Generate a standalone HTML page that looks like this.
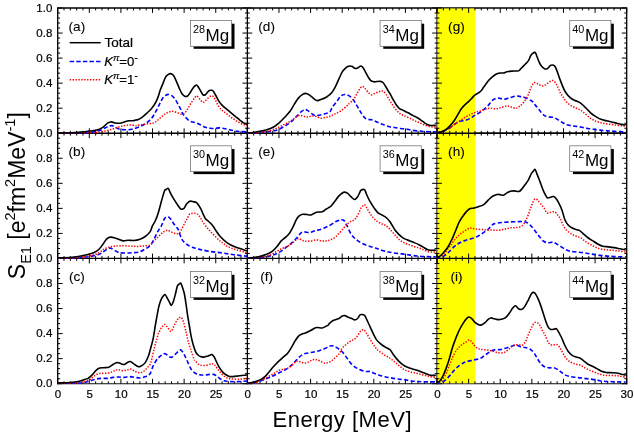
<!DOCTYPE html>
<html><head><meta charset="utf-8"><title>E1 strength in Mg isotopes</title>
<style>html,body{margin:0;padding:0;background:#fff}svg{display:block;will-change:transform;opacity:0.999}</style>
</head><body>
<svg width="634" height="433" viewBox="0 0 634 433">
<rect width="634" height="433" fill="#fff"/>
<path d="M57.05,383.7 H627.35" stroke="#111" stroke-width="1.05" fill="none"/>
<path d="M57.7,7.35 V384.35 M247.37,7.35 V384.35 M437.03,7.35 V384.35 M626.7,7.35 V384.35 M57.05,8 H627.35 M57.05,133.23 H627.35 M57.05,258.47 H627.35" stroke="#000" stroke-width="1.3" fill="none"/>
<rect x="437.45" y="8.5" width="37.75" height="374.7" fill="#ffff00"/>
<path d="M437.03,133.23 H626.7 M437.03,258.47 H626.7" stroke="#000" stroke-width="1.3" fill="none"/>
<path d="M57.7,133.23 H62.6 M57.7,128.22 H60.1 M57.7,123.21 H60.1 M57.7,118.21 H60.1 M57.7,113.2 H60.1 M57.7,108.19 H62.6 M57.7,103.18 H60.1 M57.7,98.17 H60.1 M57.7,93.16 H60.1 M57.7,88.15 H60.1 M57.7,83.14 H62.6 M57.7,78.13 H60.1 M57.7,73.12 H60.1 M57.7,68.11 H60.1 M57.7,63.1 H60.1 M57.7,58.09 H62.6 M57.7,53.08 H60.1 M57.7,48.07 H60.1 M57.7,43.07 H60.1 M57.7,38.06 H60.1 M57.7,33.05 H62.6 M57.7,28.04 H60.1 M57.7,23.03 H60.1 M57.7,18.02 H60.1 M57.7,13.01 H60.1 M57.7,8 H62.6 M57.7,258.47 H62.6 M57.7,253.46 H60.1 M57.7,248.45 H60.1 M57.7,243.44 H60.1 M57.7,238.43 H60.1 M57.7,233.42 H62.6 M57.7,228.41 H60.1 M57.7,223.4 H60.1 M57.7,218.39 H60.1 M57.7,213.38 H60.1 M57.7,208.37 H62.6 M57.7,203.36 H60.1 M57.7,198.35 H60.1 M57.7,193.35 H60.1 M57.7,188.34 H60.1 M57.7,183.33 H62.6 M57.7,178.32 H60.1 M57.7,173.31 H60.1 M57.7,168.3 H60.1 M57.7,163.29 H60.1 M57.7,158.28 H62.6 M57.7,153.27 H60.1 M57.7,148.26 H60.1 M57.7,143.25 H60.1 M57.7,138.24 H60.1 M57.7,133.23 H62.6 M57.7,383.7 H62.6 M57.7,378.69 H60.1 M57.7,373.68 H60.1 M57.7,368.67 H60.1 M57.7,363.66 H60.1 M57.7,358.65 H62.6 M57.7,353.64 H60.1 M57.7,348.63 H60.1 M57.7,343.63 H60.1 M57.7,338.62 H60.1 M57.7,333.61 H62.6 M57.7,328.6 H60.1 M57.7,323.59 H60.1 M57.7,318.58 H60.1 M57.7,313.57 H60.1 M57.7,308.56 H62.6 M57.7,303.55 H60.1 M57.7,298.54 H60.1 M57.7,293.53 H60.1 M57.7,288.52 H60.1 M57.7,283.51 H62.6 M57.7,278.5 H60.1 M57.7,273.49 H60.1 M57.7,268.49 H60.1 M57.7,263.48 H60.1 M57.7,258.47 H62.6 M242.47,133.23 H252.27 M244.97,128.22 H249.77 M244.97,123.21 H249.77 M244.97,118.21 H249.77 M244.97,113.2 H249.77 M242.47,108.19 H252.27 M244.97,103.18 H249.77 M244.97,98.17 H249.77 M244.97,93.16 H249.77 M244.97,88.15 H249.77 M242.47,83.14 H252.27 M244.97,78.13 H249.77 M244.97,73.12 H249.77 M244.97,68.11 H249.77 M244.97,63.1 H249.77 M242.47,58.09 H252.27 M244.97,53.08 H249.77 M244.97,48.07 H249.77 M244.97,43.07 H249.77 M244.97,38.06 H249.77 M242.47,33.05 H252.27 M244.97,28.04 H249.77 M244.97,23.03 H249.77 M244.97,18.02 H249.77 M244.97,13.01 H249.77 M242.47,8 H252.27 M242.47,258.47 H252.27 M244.97,253.46 H249.77 M244.97,248.45 H249.77 M244.97,243.44 H249.77 M244.97,238.43 H249.77 M242.47,233.42 H252.27 M244.97,228.41 H249.77 M244.97,223.4 H249.77 M244.97,218.39 H249.77 M244.97,213.38 H249.77 M242.47,208.37 H252.27 M244.97,203.36 H249.77 M244.97,198.35 H249.77 M244.97,193.35 H249.77 M244.97,188.34 H249.77 M242.47,183.33 H252.27 M244.97,178.32 H249.77 M244.97,173.31 H249.77 M244.97,168.3 H249.77 M244.97,163.29 H249.77 M242.47,158.28 H252.27 M244.97,153.27 H249.77 M244.97,148.26 H249.77 M244.97,143.25 H249.77 M244.97,138.24 H249.77 M242.47,133.23 H252.27 M242.47,383.7 H252.27 M244.97,378.69 H249.77 M244.97,373.68 H249.77 M244.97,368.67 H249.77 M244.97,363.66 H249.77 M242.47,358.65 H252.27 M244.97,353.64 H249.77 M244.97,348.63 H249.77 M244.97,343.63 H249.77 M244.97,338.62 H249.77 M242.47,333.61 H252.27 M244.97,328.6 H249.77 M244.97,323.59 H249.77 M244.97,318.58 H249.77 M244.97,313.57 H249.77 M242.47,308.56 H252.27 M244.97,303.55 H249.77 M244.97,298.54 H249.77 M244.97,293.53 H249.77 M244.97,288.52 H249.77 M242.47,283.51 H252.27 M244.97,278.5 H249.77 M244.97,273.49 H249.77 M244.97,268.49 H249.77 M244.97,263.48 H249.77 M242.47,258.47 H252.27 M432.13,133.23 H441.93 M434.63,128.22 H439.43 M434.63,123.21 H439.43 M434.63,118.21 H439.43 M434.63,113.2 H439.43 M432.13,108.19 H441.93 M434.63,103.18 H439.43 M434.63,98.17 H439.43 M434.63,93.16 H439.43 M434.63,88.15 H439.43 M432.13,83.14 H441.93 M434.63,78.13 H439.43 M434.63,73.12 H439.43 M434.63,68.11 H439.43 M434.63,63.1 H439.43 M432.13,58.09 H441.93 M434.63,53.08 H439.43 M434.63,48.07 H439.43 M434.63,43.07 H439.43 M434.63,38.06 H439.43 M432.13,33.05 H441.93 M434.63,28.04 H439.43 M434.63,23.03 H439.43 M434.63,18.02 H439.43 M434.63,13.01 H439.43 M432.13,8 H441.93 M432.13,258.47 H441.93 M434.63,253.46 H439.43 M434.63,248.45 H439.43 M434.63,243.44 H439.43 M434.63,238.43 H439.43 M432.13,233.42 H441.93 M434.63,228.41 H439.43 M434.63,223.4 H439.43 M434.63,218.39 H439.43 M434.63,213.38 H439.43 M432.13,208.37 H441.93 M434.63,203.36 H439.43 M434.63,198.35 H439.43 M434.63,193.35 H439.43 M434.63,188.34 H439.43 M432.13,183.33 H441.93 M434.63,178.32 H439.43 M434.63,173.31 H439.43 M434.63,168.3 H439.43 M434.63,163.29 H439.43 M432.13,158.28 H441.93 M434.63,153.27 H439.43 M434.63,148.26 H439.43 M434.63,143.25 H439.43 M434.63,138.24 H439.43 M432.13,133.23 H441.93 M432.13,383.7 H441.93 M434.63,378.69 H439.43 M434.63,373.68 H439.43 M434.63,368.67 H439.43 M434.63,363.66 H439.43 M432.13,358.65 H441.93 M434.63,353.64 H439.43 M434.63,348.63 H439.43 M434.63,343.63 H439.43 M434.63,338.62 H439.43 M432.13,333.61 H441.93 M434.63,328.6 H439.43 M434.63,323.59 H439.43 M434.63,318.58 H439.43 M434.63,313.57 H439.43 M432.13,308.56 H441.93 M434.63,303.55 H439.43 M434.63,298.54 H439.43 M434.63,293.53 H439.43 M434.63,288.52 H439.43 M432.13,283.51 H441.93 M434.63,278.5 H439.43 M434.63,273.49 H439.43 M434.63,268.49 H439.43 M434.63,263.48 H439.43 M432.13,258.47 H441.93 M621.8,133.23 H626.7 M624.3,128.22 H626.7 M624.3,123.21 H626.7 M624.3,118.21 H626.7 M624.3,113.2 H626.7 M621.8,108.19 H626.7 M624.3,103.18 H626.7 M624.3,98.17 H626.7 M624.3,93.16 H626.7 M624.3,88.15 H626.7 M621.8,83.14 H626.7 M624.3,78.13 H626.7 M624.3,73.12 H626.7 M624.3,68.11 H626.7 M624.3,63.1 H626.7 M621.8,58.09 H626.7 M624.3,53.08 H626.7 M624.3,48.07 H626.7 M624.3,43.07 H626.7 M624.3,38.06 H626.7 M621.8,33.05 H626.7 M624.3,28.04 H626.7 M624.3,23.03 H626.7 M624.3,18.02 H626.7 M624.3,13.01 H626.7 M621.8,8 H626.7 M621.8,258.47 H626.7 M624.3,253.46 H626.7 M624.3,248.45 H626.7 M624.3,243.44 H626.7 M624.3,238.43 H626.7 M621.8,233.42 H626.7 M624.3,228.41 H626.7 M624.3,223.4 H626.7 M624.3,218.39 H626.7 M624.3,213.38 H626.7 M621.8,208.37 H626.7 M624.3,203.36 H626.7 M624.3,198.35 H626.7 M624.3,193.35 H626.7 M624.3,188.34 H626.7 M621.8,183.33 H626.7 M624.3,178.32 H626.7 M624.3,173.31 H626.7 M624.3,168.3 H626.7 M624.3,163.29 H626.7 M621.8,158.28 H626.7 M624.3,153.27 H626.7 M624.3,148.26 H626.7 M624.3,143.25 H626.7 M624.3,138.24 H626.7 M621.8,133.23 H626.7 M621.8,383.7 H626.7 M624.3,378.69 H626.7 M624.3,373.68 H626.7 M624.3,368.67 H626.7 M624.3,363.66 H626.7 M621.8,358.65 H626.7 M624.3,353.64 H626.7 M624.3,348.63 H626.7 M624.3,343.63 H626.7 M624.3,338.62 H626.7 M621.8,333.61 H626.7 M624.3,328.6 H626.7 M624.3,323.59 H626.7 M624.3,318.58 H626.7 M624.3,313.57 H626.7 M621.8,308.56 H626.7 M624.3,303.55 H626.7 M624.3,298.54 H626.7 M624.3,293.53 H626.7 M624.3,288.52 H626.7 M621.8,283.51 H626.7 M624.3,278.5 H626.7 M624.3,273.49 H626.7 M624.3,268.49 H626.7 M624.3,263.48 H626.7 M621.8,258.47 H626.7 M57.7,8 V12.9 M64.02,8 V10.4 M70.34,8 V10.4 M76.67,8 V10.4 M82.99,8 V10.4 M89.31,8 V12.9 M95.63,8 V10.4 M101.96,8 V10.4 M108.28,8 V10.4 M114.6,8 V10.4 M120.92,8 V12.9 M127.24,8 V10.4 M133.57,8 V10.4 M139.89,8 V10.4 M146.21,8 V10.4 M152.53,8 V12.9 M158.86,8 V10.4 M165.18,8 V10.4 M171.5,8 V10.4 M177.82,8 V10.4 M184.14,8 V12.9 M190.47,8 V10.4 M196.79,8 V10.4 M203.11,8 V10.4 M209.43,8 V10.4 M215.76,8 V12.9 M222.08,8 V10.4 M228.4,8 V10.4 M234.72,8 V10.4 M241.04,8 V10.4 M247.37,8 V12.9 M247.37,8 V12.9 M253.69,8 V10.4 M260.01,8 V10.4 M266.33,8 V10.4 M272.66,8 V10.4 M278.98,8 V12.9 M285.3,8 V10.4 M291.62,8 V10.4 M297.94,8 V10.4 M304.27,8 V10.4 M310.59,8 V12.9 M316.91,8 V10.4 M323.23,8 V10.4 M329.56,8 V10.4 M335.88,8 V10.4 M342.2,8 V12.9 M348.52,8 V10.4 M354.84,8 V10.4 M361.17,8 V10.4 M367.49,8 V10.4 M373.81,8 V12.9 M380.13,8 V10.4 M386.46,8 V10.4 M392.78,8 V10.4 M399.1,8 V10.4 M405.42,8 V12.9 M411.74,8 V10.4 M418.07,8 V10.4 M424.39,8 V10.4 M430.71,8 V10.4 M437.03,8 V12.9 M437.03,8 V12.9 M443.36,8 V10.4 M449.68,8 V10.4 M456,8 V10.4 M462.32,8 V10.4 M468.64,8 V12.9 M474.97,8 V10.4 M481.29,8 V10.4 M487.61,8 V10.4 M493.93,8 V10.4 M500.26,8 V12.9 M506.58,8 V10.4 M512.9,8 V10.4 M519.22,8 V10.4 M525.54,8 V10.4 M531.87,8 V12.9 M538.19,8 V10.4 M544.51,8 V10.4 M550.83,8 V10.4 M557.16,8 V10.4 M563.48,8 V12.9 M569.8,8 V10.4 M576.12,8 V10.4 M582.44,8 V10.4 M588.77,8 V10.4 M595.09,8 V12.9 M601.41,8 V10.4 M607.73,8 V10.4 M614.06,8 V10.4 M620.38,8 V10.4 M626.7,8 V12.9 M57.7,128.33 V138.13 M64.02,130.83 V135.63 M70.34,130.83 V135.63 M76.67,130.83 V135.63 M82.99,130.83 V135.63 M89.31,128.33 V138.13 M95.63,130.83 V135.63 M101.96,130.83 V135.63 M108.28,130.83 V135.63 M114.6,130.83 V135.63 M120.92,128.33 V138.13 M127.24,130.83 V135.63 M133.57,130.83 V135.63 M139.89,130.83 V135.63 M146.21,130.83 V135.63 M152.53,128.33 V138.13 M158.86,130.83 V135.63 M165.18,130.83 V135.63 M171.5,130.83 V135.63 M177.82,130.83 V135.63 M184.14,128.33 V138.13 M190.47,130.83 V135.63 M196.79,130.83 V135.63 M203.11,130.83 V135.63 M209.43,130.83 V135.63 M215.76,128.33 V138.13 M222.08,130.83 V135.63 M228.4,130.83 V135.63 M234.72,130.83 V135.63 M241.04,130.83 V135.63 M247.37,128.33 V138.13 M247.37,128.33 V138.13 M253.69,130.83 V135.63 M260.01,130.83 V135.63 M266.33,130.83 V135.63 M272.66,130.83 V135.63 M278.98,128.33 V138.13 M285.3,130.83 V135.63 M291.62,130.83 V135.63 M297.94,130.83 V135.63 M304.27,130.83 V135.63 M310.59,128.33 V138.13 M316.91,130.83 V135.63 M323.23,130.83 V135.63 M329.56,130.83 V135.63 M335.88,130.83 V135.63 M342.2,128.33 V138.13 M348.52,130.83 V135.63 M354.84,130.83 V135.63 M361.17,130.83 V135.63 M367.49,130.83 V135.63 M373.81,128.33 V138.13 M380.13,130.83 V135.63 M386.46,130.83 V135.63 M392.78,130.83 V135.63 M399.1,130.83 V135.63 M405.42,128.33 V138.13 M411.74,130.83 V135.63 M418.07,130.83 V135.63 M424.39,130.83 V135.63 M430.71,130.83 V135.63 M437.03,128.33 V138.13 M437.03,128.33 V138.13 M443.36,130.83 V135.63 M449.68,130.83 V135.63 M456,130.83 V135.63 M462.32,130.83 V135.63 M468.64,128.33 V138.13 M474.97,130.83 V135.63 M481.29,130.83 V135.63 M487.61,130.83 V135.63 M493.93,130.83 V135.63 M500.26,128.33 V138.13 M506.58,130.83 V135.63 M512.9,130.83 V135.63 M519.22,130.83 V135.63 M525.54,130.83 V135.63 M531.87,128.33 V138.13 M538.19,130.83 V135.63 M544.51,130.83 V135.63 M550.83,130.83 V135.63 M557.16,130.83 V135.63 M563.48,128.33 V138.13 M569.8,130.83 V135.63 M576.12,130.83 V135.63 M582.44,130.83 V135.63 M588.77,130.83 V135.63 M595.09,128.33 V138.13 M601.41,130.83 V135.63 M607.73,130.83 V135.63 M614.06,130.83 V135.63 M620.38,130.83 V135.63 M626.7,128.33 V138.13 M57.7,253.57 V263.37 M64.02,256.07 V260.87 M70.34,256.07 V260.87 M76.67,256.07 V260.87 M82.99,256.07 V260.87 M89.31,253.57 V263.37 M95.63,256.07 V260.87 M101.96,256.07 V260.87 M108.28,256.07 V260.87 M114.6,256.07 V260.87 M120.92,253.57 V263.37 M127.24,256.07 V260.87 M133.57,256.07 V260.87 M139.89,256.07 V260.87 M146.21,256.07 V260.87 M152.53,253.57 V263.37 M158.86,256.07 V260.87 M165.18,256.07 V260.87 M171.5,256.07 V260.87 M177.82,256.07 V260.87 M184.14,253.57 V263.37 M190.47,256.07 V260.87 M196.79,256.07 V260.87 M203.11,256.07 V260.87 M209.43,256.07 V260.87 M215.76,253.57 V263.37 M222.08,256.07 V260.87 M228.4,256.07 V260.87 M234.72,256.07 V260.87 M241.04,256.07 V260.87 M247.37,253.57 V263.37 M247.37,253.57 V263.37 M253.69,256.07 V260.87 M260.01,256.07 V260.87 M266.33,256.07 V260.87 M272.66,256.07 V260.87 M278.98,253.57 V263.37 M285.3,256.07 V260.87 M291.62,256.07 V260.87 M297.94,256.07 V260.87 M304.27,256.07 V260.87 M310.59,253.57 V263.37 M316.91,256.07 V260.87 M323.23,256.07 V260.87 M329.56,256.07 V260.87 M335.88,256.07 V260.87 M342.2,253.57 V263.37 M348.52,256.07 V260.87 M354.84,256.07 V260.87 M361.17,256.07 V260.87 M367.49,256.07 V260.87 M373.81,253.57 V263.37 M380.13,256.07 V260.87 M386.46,256.07 V260.87 M392.78,256.07 V260.87 M399.1,256.07 V260.87 M405.42,253.57 V263.37 M411.74,256.07 V260.87 M418.07,256.07 V260.87 M424.39,256.07 V260.87 M430.71,256.07 V260.87 M437.03,253.57 V263.37 M437.03,253.57 V263.37 M443.36,256.07 V260.87 M449.68,256.07 V260.87 M456,256.07 V260.87 M462.32,256.07 V260.87 M468.64,253.57 V263.37 M474.97,256.07 V260.87 M481.29,256.07 V260.87 M487.61,256.07 V260.87 M493.93,256.07 V260.87 M500.26,253.57 V263.37 M506.58,256.07 V260.87 M512.9,256.07 V260.87 M519.22,256.07 V260.87 M525.54,256.07 V260.87 M531.87,253.57 V263.37 M538.19,256.07 V260.87 M544.51,256.07 V260.87 M550.83,256.07 V260.87 M557.16,256.07 V260.87 M563.48,253.57 V263.37 M569.8,256.07 V260.87 M576.12,256.07 V260.87 M582.44,256.07 V260.87 M588.77,256.07 V260.87 M595.09,253.57 V263.37 M601.41,256.07 V260.87 M607.73,256.07 V260.87 M614.06,256.07 V260.87 M620.38,256.07 V260.87 M626.7,253.57 V263.37 M57.7,378.8 V383.7 M64.02,381.3 V383.7 M70.34,381.3 V383.7 M76.67,381.3 V383.7 M82.99,381.3 V383.7 M89.31,378.8 V383.7 M95.63,381.3 V383.7 M101.96,381.3 V383.7 M108.28,381.3 V383.7 M114.6,381.3 V383.7 M120.92,378.8 V383.7 M127.24,381.3 V383.7 M133.57,381.3 V383.7 M139.89,381.3 V383.7 M146.21,381.3 V383.7 M152.53,378.8 V383.7 M158.86,381.3 V383.7 M165.18,381.3 V383.7 M171.5,381.3 V383.7 M177.82,381.3 V383.7 M184.14,378.8 V383.7 M190.47,381.3 V383.7 M196.79,381.3 V383.7 M203.11,381.3 V383.7 M209.43,381.3 V383.7 M215.76,378.8 V383.7 M222.08,381.3 V383.7 M228.4,381.3 V383.7 M234.72,381.3 V383.7 M241.04,381.3 V383.7 M247.37,378.8 V383.7 M247.37,378.8 V383.7 M253.69,381.3 V383.7 M260.01,381.3 V383.7 M266.33,381.3 V383.7 M272.66,381.3 V383.7 M278.98,378.8 V383.7 M285.3,381.3 V383.7 M291.62,381.3 V383.7 M297.94,381.3 V383.7 M304.27,381.3 V383.7 M310.59,378.8 V383.7 M316.91,381.3 V383.7 M323.23,381.3 V383.7 M329.56,381.3 V383.7 M335.88,381.3 V383.7 M342.2,378.8 V383.7 M348.52,381.3 V383.7 M354.84,381.3 V383.7 M361.17,381.3 V383.7 M367.49,381.3 V383.7 M373.81,378.8 V383.7 M380.13,381.3 V383.7 M386.46,381.3 V383.7 M392.78,381.3 V383.7 M399.1,381.3 V383.7 M405.42,378.8 V383.7 M411.74,381.3 V383.7 M418.07,381.3 V383.7 M424.39,381.3 V383.7 M430.71,381.3 V383.7 M437.03,378.8 V383.7 M437.03,378.8 V383.7 M443.36,381.3 V383.7 M449.68,381.3 V383.7 M456,381.3 V383.7 M462.32,381.3 V383.7 M468.64,378.8 V383.7 M474.97,381.3 V383.7 M481.29,381.3 V383.7 M487.61,381.3 V383.7 M493.93,381.3 V383.7 M500.26,378.8 V383.7 M506.58,381.3 V383.7 M512.9,381.3 V383.7 M519.22,381.3 V383.7 M525.54,381.3 V383.7 M531.87,378.8 V383.7 M538.19,381.3 V383.7 M544.51,381.3 V383.7 M550.83,381.3 V383.7 M557.16,381.3 V383.7 M563.48,378.8 V383.7 M569.8,381.3 V383.7 M576.12,381.3 V383.7 M582.44,381.3 V383.7 M588.77,381.3 V383.7 M595.09,378.8 V383.7 M601.41,381.3 V383.7 M607.73,381.3 V383.7 M614.06,381.3 V383.7 M620.38,381.3 V383.7 M626.7,378.8 V383.7" stroke="#000" stroke-width="1" fill="none"/>
<clipPath id="cpa"><rect x="57.7" y="8" width="189.67" height="126.03"/></clipPath>
<g clip-path="url(#cpa)" fill="none" stroke-linejoin="round">
<path d="M58,133C60,133 66.16,133.05 70,133.01C73.84,132.98 77.36,132.94 81.04,132.79C84.72,132.64 88.95,132.53 92.08,132.13C95.21,131.72 97.6,131.08 99.81,130.36C102.02,129.65 103.86,128.5 105.33,127.82C106.8,127.14 107.54,126.65 108.64,126.28C109.75,125.91 110.85,125.49 111.96,125.62C113.06,125.74 113.98,126.44 115.27,127.05C116.56,127.66 118.03,128.8 119.68,129.26C121.34,129.72 123.18,129.81 125.21,129.81C127.23,129.81 129.55,129.73 131.83,129.26C134.11,128.78 136.53,127.92 138.86,126.96C141.19,126 143.67,124.94 145.79,123.5C147.91,122.05 149.93,120.23 151.57,118.3C153.2,116.38 154.26,114.35 155.61,111.95C156.96,109.54 158.4,106.27 159.65,103.86C160.9,101.45 162.06,98.95 163.12,97.51C164.18,96.06 165.14,95.71 166.01,95.2C166.87,94.68 167.26,94.28 168.32,94.42C169.38,94.56 171.11,95.04 172.36,96.04C173.61,97.04 174.77,98.83 175.83,100.43C176.88,102.03 177.85,104.09 178.71,105.63C179.58,107.17 180.42,108.47 181.02,109.67C181.62,110.87 181.71,111.73 182.31,112.83C182.91,113.94 183.66,115.15 184.62,116.3C185.58,117.46 186.93,118.86 188.09,119.77C189.24,120.67 190.2,121.21 191.55,121.73C192.9,122.25 194.63,122.35 196.17,122.88C197.71,123.42 199.25,124.23 200.79,124.96C202.33,125.7 203.87,126.73 205.41,127.27C206.95,127.81 208.49,128.01 210.03,128.2C211.57,128.39 213.11,128.49 214.65,128.43C216.19,128.37 217.73,127.85 219.27,127.85C220.81,127.85 222.35,128.18 223.89,128.43C225.43,128.68 226.97,129.01 228.51,129.35C230.06,129.7 231.6,130.18 233.14,130.51C234.68,130.84 236.22,131.12 237.76,131.32C239.3,131.51 240.84,131.57 242.38,131.66C243.92,131.76 246.23,131.86 247,131.89" stroke="#0000ff" stroke-width="1.6" stroke-dasharray="4.2,2.4"/>
<path d="M58,133C60,133 66.16,133.05 70,133.01C73.84,132.98 77.36,132.87 81.04,132.79C84.72,132.72 89.14,132.66 92.08,132.57C95.03,132.48 96.5,132.52 98.71,132.24C100.91,131.96 103.12,131.41 105.33,130.91C107.54,130.42 109.75,129.9 111.96,129.26C114.16,128.61 116.56,127.66 118.58,127.05C120.6,126.44 122.26,125.98 124.1,125.62C125.94,125.25 127.78,124.84 129.62,124.84C131.46,124.84 133.99,125.49 135.14,125.62C136.3,125.74 135.35,125.74 136.55,125.58C137.75,125.42 140.4,124.96 142.33,124.65C144.25,124.35 146.18,124.02 148.1,123.73C150.03,123.44 152.15,123.63 153.88,122.92C155.61,122.21 156.96,120.71 158.5,119.46C160.04,118.2 161.58,116.57 163.12,115.41C164.66,114.26 166.2,113.2 167.74,112.52C169.28,111.85 170.82,111.37 172.36,111.37C173.9,111.37 175.44,112.04 176.98,112.52C178.52,113.01 180.25,114.26 181.6,114.26C182.95,114.26 183.91,113.68 185.07,112.52C186.22,111.37 187.38,109.16 188.53,107.33C189.69,105.5 190.92,103.19 192,101.55C193.07,99.91 194.29,98.43 195,97.51C195.71,96.59 195.78,96.11 196.28,96.03C196.77,95.94 197.3,96.34 197.98,96.97C198.66,97.6 199.49,98.9 200.35,99.81C201.2,100.72 202.16,102.39 203.1,102.44C204.04,102.49 205.03,101 205.99,100.13C206.95,99.26 208.01,97.95 208.88,97.24C209.74,96.53 210.42,95.95 211.19,95.85C211.96,95.76 212.73,95.85 213.5,96.66C214.27,97.47 215.04,99.26 215.81,100.71C216.58,102.15 217.25,103.88 218.12,105.33C218.99,106.77 220.04,108.31 221.01,109.37C221.97,110.43 222.84,110.85 223.89,111.68C224.95,112.51 226.2,113.43 227.36,114.34C228.51,115.24 229.67,116.26 230.83,117.11C231.98,117.96 233.14,118.65 234.29,119.42C235.45,120.19 236.6,121.04 237.76,121.73C238.91,122.42 240.07,123.04 241.22,123.58C242.38,124.12 243.72,124.6 244.69,124.96C245.65,125.33 246.61,125.64 247,125.77" stroke="#ff0000" stroke-width="1.5" stroke-dasharray="1.4,1.5"/>
<path d="M58,133C60,132.97 66.16,132.94 70,132.79C73.84,132.65 77.73,132.42 81.04,132.13C84.35,131.83 87.11,131.41 89.87,131.03C92.63,130.64 95.39,130.47 97.6,129.81C99.81,129.15 101.47,128.15 103.12,127.05C104.78,125.95 106.16,124.05 107.54,123.19C108.92,122.32 110.12,121.9 111.4,121.86C112.69,121.82 113.89,122.74 115.27,122.97C116.65,123.19 118.21,123.33 119.68,123.19C121.16,123.04 122.63,122.49 124.1,122.08C125.57,121.68 127.05,120.98 128.52,120.76C129.99,120.54 131.65,120.9 132.93,120.76C134.22,120.61 135.45,120.03 136.25,119.87C137.04,119.71 136.69,120.26 137.71,119.8C138.72,119.35 140.79,118.26 142.33,117.15C143.87,116.03 145.41,114.55 146.95,113.1C148.49,111.66 150.12,110.21 151.57,108.48C153.01,106.75 154.46,104.82 155.61,102.71C156.77,100.59 157.73,97.89 158.5,95.78C159.27,93.66 159.46,92.11 160.23,90C161,87.89 162.25,85.21 163.12,83.1C163.99,80.99 164.56,78.77 165.43,77.33C166.3,75.88 167.45,75.06 168.32,74.44C169.18,73.82 169.76,73.44 170.63,73.63C171.49,73.82 172.55,74.3 173.51,75.59C174.48,76.88 175.44,79.25 176.4,81.37C177.37,83.49 178.33,86.18 179.29,88.3C180.25,90.42 181.22,92.73 182.18,94.08C183.14,95.42 184.17,96.06 185.07,96.39C185.96,96.71 186.84,96.48 187.57,96.03C188.3,95.57 188.75,94.68 189.46,93.66C190.17,92.63 191.04,91.06 191.83,89.87C192.62,88.69 193.56,87.3 194.2,86.56C194.83,85.82 195.17,85.66 195.62,85.43C196.06,85.19 196.45,84.95 196.85,85.14C197.24,85.33 197.4,85.69 197.98,86.56C198.56,87.43 199.49,88.95 200.35,90.35C201.2,91.74 202.26,94.21 203.1,94.93C203.95,95.66 204.64,95.18 205.41,94.7C206.18,94.22 207.05,92.74 207.72,92.04C208.4,91.35 208.78,90.83 209.46,90.54C210.13,90.25 211.09,90.16 211.77,90.31C212.44,90.46 212.82,90.6 213.5,91.47C214.17,92.33 214.85,93.78 215.81,95.51C216.77,97.24 218.12,100.13 219.27,101.86C220.43,103.59 221.58,104.75 222.74,105.9C223.89,107.06 225.05,107.83 226.2,108.79C227.36,109.75 228.51,110.72 229.67,111.68C230.83,112.64 231.98,113.61 233.14,114.57C234.29,115.53 235.45,116.49 236.6,117.46C237.76,118.42 238.91,119.44 240.07,120.34C241.22,121.25 242.38,122.21 243.53,122.88C244.69,123.56 246.42,124.14 247,124.39" stroke="#000" stroke-width="1.6"/>
</g>
<clipPath id="cpb"><rect x="57.7" y="133.23" width="189.67" height="126.03"/></clipPath>
<g clip-path="url(#cpb)" fill="none" stroke-linejoin="round">
<path d="M58,258C60,258.04 65.69,258.38 70,258.23C74.31,258.09 80.17,257.47 83.86,257.12C87.56,256.78 89.64,256.61 92.18,256.15C94.73,255.69 97.15,255.16 99.12,254.35C101.08,253.54 102.47,252.27 103.97,251.3C105.47,250.33 106.97,249.04 108.13,248.53C109.28,248.02 109.86,247.97 110.9,248.25C111.94,248.53 113.1,249.5 114.37,250.19C115.64,250.88 116.68,251.95 118.53,252.41C120.38,252.87 123.15,252.92 125.46,252.96C127.77,253.01 130.08,252.85 132.39,252.69C134.7,252.52 137.24,252.57 139.32,251.99C141.4,251.42 143.09,250.26 144.87,249.22C146.65,248.18 148.58,247.22 150,245.75C151.42,244.28 152.08,242.78 153.39,240.4C154.71,238.01 156.6,233.72 157.87,231.45C159.13,229.18 160.17,228.23 160.97,226.78C161.78,225.33 162.13,224.09 162.71,222.74C163.28,221.39 163.86,219.62 164.44,218.7C165.02,217.77 165.5,217.48 166.17,217.19C166.85,216.91 167.71,216.62 168.48,216.96C169.25,217.31 170.02,218.31 170.79,219.27C171.56,220.24 172.24,221.49 173.1,222.74C173.97,223.99 175.12,225.63 175.99,226.78C176.86,227.94 177.35,227.65 178.3,229.67C179.25,231.69 180.4,236.52 181.71,238.91C183.03,241.29 184.45,242.59 186.19,243.98C187.92,245.37 189.91,246.37 192.15,247.26C194.38,248.16 196.62,248.65 199.6,249.35C202.58,250.04 206.31,250.84 210.03,251.44C213.76,252.03 217.98,252.38 221.96,252.93C225.93,253.48 229.71,254.17 233.88,254.72C238.06,255.27 244.81,255.96 247,256.21" stroke="#0000ff" stroke-width="1.6" stroke-dasharray="4.2,2.4"/>
<path d="M58,258C60,258.04 65.69,258.42 70,258.23C74.31,258.04 80.17,257.35 83.86,256.85C87.56,256.34 89.64,255.88 92.18,255.18C94.73,254.49 97.15,253.68 99.12,252.69C101.08,251.69 102.35,250.14 103.97,249.22C105.59,248.3 107.09,247.65 108.82,247.14C110.55,246.63 112.29,246.4 114.37,246.17C116.45,245.94 118.76,245.78 121.3,245.75C123.84,245.73 127.08,245.92 129.62,246.03C132.16,246.15 134.24,246.45 136.55,246.45C138.86,246.45 141.24,246.26 143.48,246.03C145.73,245.8 148.33,245.8 150,245.06C151.67,244.32 152.35,242.76 153.5,241.6C154.65,240.44 155.75,239.27 156.9,238.1C158.05,236.93 159.23,235.67 160.4,234.6C161.57,233.53 162.75,232.43 163.9,231.7C165.05,230.97 166.15,230.2 167.3,230.2C168.45,230.2 169.63,231.18 170.8,231.7C171.97,232.22 173.25,232.97 174.3,233.3C175.35,233.63 176.23,233.77 177.1,233.7C177.97,233.63 178.72,233.7 179.5,232.9C180.28,232.1 180.93,230.53 181.8,228.9C182.67,227.27 183.83,224.75 184.7,223.1C185.57,221.45 186.23,220.45 187,219C187.77,217.55 188.53,215.32 189.3,214.4C190.07,213.48 190.83,213.68 191.6,213.5C192.37,213.32 193.03,213.27 193.9,213.3C194.77,213.33 195.93,213.28 196.8,213.7C197.67,214.12 198.33,214.85 199.1,215.8C199.87,216.75 200.73,218.28 201.4,219.4C202.07,220.52 202.23,221.22 203.1,222.5C203.97,223.78 205.43,225.65 206.6,227.1C207.77,228.55 208.75,229.75 210.1,231.2C211.45,232.65 213.05,234.17 214.7,235.8C216.35,237.43 218.54,239.74 220,241C221.46,242.26 222.13,242.44 223.45,243.38C224.77,244.33 225.69,245.57 227.92,246.66C230.16,247.76 233.68,248.95 236.86,249.95C240.04,250.94 245.31,252.18 247,252.63" stroke="#ff0000" stroke-width="1.5" stroke-dasharray="1.4,1.5"/>
<path d="M58,257.7C60,257.67 66.61,257.73 70,257.54C73.39,257.35 75.55,257.03 78.32,256.57C81.09,256.11 84.1,255.41 86.64,254.77C89.18,254.12 91.49,253.61 93.57,252.69C95.65,251.76 97.5,250.72 99.12,249.22C100.73,247.72 102,245.41 103.28,243.67C104.55,241.94 105.59,239.91 106.74,238.82C107.9,237.74 108.94,237.34 110.21,237.16C111.48,236.97 112.87,237.32 114.37,237.71C115.87,238.11 117.72,238.98 119.22,239.51C120.72,240.05 121.88,240.79 123.38,240.9C124.88,241.02 126.5,240.28 128.23,240.21C129.97,240.14 131.93,240.6 133.78,240.49C135.63,240.37 137.48,240.14 139.32,239.51C141.17,238.89 143.09,238.01 144.87,236.74C146.65,235.47 148.76,233.65 150,231.89C151.24,230.13 151.44,228.02 152.31,226.2C153.18,224.39 154.24,223.12 155.2,221.01C156.16,218.89 157.03,216.87 158.09,213.5C159.14,210.13 160.49,204.55 161.55,200.79C162.61,197.04 163.67,192.86 164.44,190.97C165.21,189.09 165.54,189.91 166.17,189.47C166.81,189.03 167.58,187.78 168.25,188.32C168.92,188.86 169.41,191.11 170.21,192.71C171.02,194.3 171.95,195.98 173.1,197.9C174.26,199.83 175.89,202.43 177.15,204.26C178.4,206.09 179.74,208.07 180.61,208.88C181.48,209.69 181.77,209.21 182.34,209.11C182.92,209.01 183.4,209.11 184.08,208.3C184.75,207.49 185.62,205.32 186.39,204.26C187.16,203.2 188.02,202.47 188.7,201.95C189.37,201.43 189.66,201.18 190.43,201.14C191.2,201.1 192.35,201.49 193.32,201.72C194.28,201.95 195.43,202.1 196.2,202.52C196.97,202.95 197.17,203.2 197.94,204.26C198.71,205.32 199.96,207.24 200.83,208.88C201.69,210.51 202.37,212.44 203.14,214.08C203.91,215.71 204.68,217.6 205.45,218.7C206.22,219.79 206.89,219.89 207.76,220.66C208.62,221.43 209.68,222.3 210.64,223.32C211.61,224.34 212.76,225.72 213.53,226.78C214.3,227.84 214.11,228 215.26,229.67C216.42,231.34 218.36,234.53 220.47,236.82C222.58,239.1 225.19,241.59 227.92,243.38C230.65,245.17 233.68,246.32 236.86,247.56C240.04,248.8 245.31,250.29 247,250.84" stroke="#000" stroke-width="1.6"/>
</g>
<clipPath id="cpc"><rect x="57.7" y="258.47" width="189.67" height="126.03"/></clipPath>
<g clip-path="url(#cpc)" fill="none" stroke-linejoin="round">
<path d="M58,383C60,383.04 65.69,383.31 70,383.23C74.31,383.16 80.63,382.89 83.86,382.54C87.1,382.19 87.56,381.68 89.41,381.15C91.26,380.62 93.11,379.81 94.96,379.35C96.81,378.89 98.42,378.54 100.5,378.38C102.58,378.22 105.36,378.54 107.44,378.38C109.51,378.22 111.13,377.64 112.98,377.41C114.83,377.18 116.68,376.99 118.53,376.99C120.38,376.99 122.22,377.48 124.07,377.41C125.92,377.34 127.77,376.58 129.62,376.58C131.47,376.58 133.32,377.18 135.16,377.41C137.01,377.64 138.98,378.1 140.71,377.96C142.44,377.82 144.02,377.27 145.56,376.58C147.11,375.88 148.69,375.67 150,373.8C151.31,371.94 152.08,368.04 153.39,365.4C154.71,362.75 156.95,359.28 157.87,357.94C158.78,356.6 158.21,357.84 158.86,357.36C159.51,356.88 160.75,355.67 161.75,355.05C162.75,354.43 163.81,353.57 164.87,353.66C165.93,353.76 167.08,355.01 168.1,355.63C169.12,356.24 170.03,357.36 170.99,357.36C171.95,357.36 172.92,356.4 173.88,355.63C174.84,354.86 175.9,353.51 176.77,352.74C177.63,351.97 178.34,351.44 179.08,351.01C179.81,350.57 180.23,349.41 181.16,350.13C182.08,350.85 183.47,353.21 184.62,355.33C185.78,357.44 186.93,360.43 188.09,362.83C189.24,365.24 190.2,367.94 191.55,369.77C192.9,371.59 194.63,372.94 196.17,373.81C197.71,374.67 199.25,374.77 200.79,374.96C202.33,375.16 203.87,375.06 205.41,374.96C206.95,374.87 208.69,374.48 210.03,374.39C211.38,374.29 212.34,374.1 213.5,374.39C214.65,374.67 215.81,375.35 216.96,376.12C218.12,376.89 219.08,378.2 220.43,379.01C221.78,379.82 223.32,380.53 225.05,380.97C226.78,381.41 228.71,381.55 230.83,381.66C232.94,381.78 235.06,381.78 237.76,381.66C240.45,381.55 245.46,381.09 247,380.97" stroke="#0000ff" stroke-width="1.6" stroke-dasharray="4.2,2.4"/>
<path d="M58,383C60,383.04 66.15,383.38 70,383.23C73.85,383.09 78.09,382.59 81.09,382.12C84.1,381.66 86.18,381.2 88.02,380.46C89.87,379.72 90.8,378.66 92.18,377.69C93.57,376.72 94.96,375.38 96.34,374.64C97.73,373.9 98.89,373.48 100.5,373.25C102.12,373.02 104.2,373.43 106.05,373.25C107.9,373.06 109.98,372.67 111.59,372.14C113.21,371.61 114.6,370.48 115.75,370.06C116.91,369.64 117.37,369.53 118.53,369.64C119.68,369.76 121.3,370.68 122.69,370.75C124.07,370.82 125.46,370.34 126.85,370.06C128.23,369.78 129.62,368.86 131.01,369.09C132.39,369.32 133.78,370.82 135.16,371.45C136.55,372.07 137.94,372.83 139.32,372.83C140.71,372.83 142.21,372.26 143.48,371.45C144.75,370.64 145.86,369.14 146.95,367.98C148.04,366.83 149.17,366.09 150,364.51C150.83,362.94 151.22,361.25 151.93,358.51C152.64,355.78 153.47,351.2 154.24,348.12C155.01,345.04 155.78,342.63 156.55,340.03C157.32,337.43 158,334.64 158.86,332.52C159.73,330.41 160.75,328.67 161.75,327.33C162.75,325.98 163.91,324.44 164.87,324.44C165.83,324.44 166.5,326.17 167.52,327.33C168.55,328.48 169.93,331.56 170.99,331.37C172.05,331.18 173.01,327.81 173.88,326.17C174.74,324.54 175.38,322.9 176.19,321.55C177,320.2 177.86,318.76 178.73,318.09C179.6,317.41 180.56,316.74 181.39,317.51C182.21,318.28 182.93,320.3 183.7,322.71C184.47,325.11 185.24,328.77 186.01,331.95C186.78,335.12 187.45,338.59 188.32,341.77C189.18,344.94 190.24,348.12 191.2,351.01C192.17,353.89 193.44,357.44 194.09,359.09C194.75,360.75 194.21,359.97 195.13,360.92C196.05,361.88 197.86,364.06 199.6,364.8C201.34,365.55 203.58,365.55 205.56,365.4C207.55,365.25 210.03,364.01 211.53,363.91C213.02,363.81 213.26,363.66 214.51,364.8C215.75,365.95 217.24,368.78 218.98,370.77C220.72,372.76 222.95,375.39 224.94,376.74C226.93,378.08 228.42,378.43 230.9,378.82C233.39,379.22 237.16,379.22 239.85,379.12C242.53,379.02 245.81,378.38 247,378.23" stroke="#ff0000" stroke-width="1.5" stroke-dasharray="1.4,1.5"/>
<path d="M58,383C60,382.92 66.61,382.78 70,382.54C73.39,382.3 76.01,382.03 78.32,381.57C80.63,381.11 82.25,380.3 83.86,379.77C85.48,379.23 86.64,379.19 88.02,378.38C89.41,377.57 90.8,376.3 92.18,374.91C93.57,373.53 95.07,371.22 96.34,370.06C97.61,368.91 98.54,368.37 99.81,367.98C101.08,367.59 102.47,367.82 103.97,367.7C105.47,367.59 107.32,367.82 108.82,367.29C110.32,366.76 111.59,365.32 112.98,364.51C114.37,363.71 115.87,362.6 117.14,362.44C118.41,362.27 119.45,363.2 120.61,363.54C121.76,363.89 122.92,364.7 124.07,364.51C125.23,364.33 126.5,362.94 127.54,362.44C128.58,361.93 129.27,361.23 130.31,361.46C131.35,361.7 132.51,362.97 133.78,363.82C135.05,364.68 136.78,366.18 137.94,366.59C139.09,367.01 139.56,366.89 140.71,366.32C141.87,365.74 143.6,364.82 144.87,363.13C146.14,361.44 147.48,358.28 148.34,356.2C149.19,354.12 149.21,353.53 150,350.65C150.79,347.77 152.2,343.17 153.1,338.9C154,334.63 154.73,328.92 155.4,325C156.07,321.08 156.52,318.53 157.1,315.4C157.68,312.27 158.22,308.88 158.9,306.2C159.58,303.52 160.43,301.03 161.2,299.3C161.97,297.57 162.83,296.58 163.5,295.8C164.17,295.02 164.63,294.32 165.2,294.6C165.77,294.88 166.22,296.3 166.9,297.5C167.58,298.7 168.57,300.48 169.3,301.8C170.03,303.12 170.63,305.43 171.3,305.4C171.97,305.37 172.63,303.4 173.3,301.6C173.97,299.8 174.63,297.17 175.3,294.6C175.97,292.03 176.67,287.93 177.3,286.2C177.93,284.47 178.53,284.72 179.1,284.2C179.67,283.68 180.18,282.7 180.7,283.1C181.22,283.5 181.6,284.87 182.2,286.6C182.8,288.33 183.65,290.52 184.3,293.5C184.95,296.48 185.52,300.63 186.1,304.5C186.68,308.37 187.23,313.03 187.8,316.7C188.37,320.37 188.93,323.18 189.5,326.5C190.07,329.82 190.53,333.38 191.2,336.6C191.87,339.82 192.73,343.2 193.5,345.8C194.27,348.4 195.03,350.67 195.8,352.2C196.57,353.73 197.33,354.27 198.1,355C198.87,355.73 199.43,356.25 200.4,356.6C201.37,356.95 202.73,357.17 203.9,357.1C205.07,357.03 206.33,356.55 207.4,356.2C208.47,355.85 209.53,355.28 210.3,355C211.07,354.72 211.43,354.3 212,354.5C212.57,354.7 213.2,355.53 213.7,356.2C214.2,356.87 214.12,356.72 215,358.5C215.88,360.28 217.57,364.5 218.98,366.89C220.39,369.28 221.71,371.27 223.45,372.86C225.19,374.45 227.18,375.89 229.41,376.44C231.65,376.98 233.93,376.39 236.86,376.14C239.8,375.89 245.31,375.14 247,374.95" stroke="#000" stroke-width="1.6"/>
</g>
<clipPath id="cpd"><rect x="247.37" y="8" width="189.67" height="126.03"/></clipPath>
<g clip-path="url(#cpd)" fill="none" stroke-linejoin="round">
<path d="M247,133C247.5,133.04 247.19,133.38 250,133.23C252.81,133.09 260.17,132.47 263.86,132.12C267.56,131.78 269.87,131.55 272.18,131.15C274.49,130.76 275.88,130.46 277.73,129.77C279.58,129.07 281.43,128.03 283.28,126.99C285.12,125.95 287.2,124.68 288.82,123.53C290.44,122.37 291.59,121.33 292.98,120.06C294.37,118.79 295.75,117.29 297.14,115.9C298.53,114.51 300.03,112.78 301.3,111.74C302.57,110.7 303.73,109.89 304.77,109.66C305.81,109.43 306.5,109.78 307.54,110.36C308.58,110.93 309.73,112.27 311.01,113.13C312.28,113.98 313.78,115.14 315.16,115.49C316.55,115.83 317.71,115.49 319.32,115.21C320.94,114.93 323.09,114.4 324.87,113.82C326.65,113.24 328.82,112.72 330,111.74C331.18,110.76 330.89,109.57 331.96,107.94C333.03,106.31 334.94,103.96 336.43,101.97C337.92,99.98 339.51,97.25 340.9,96.01C342.29,94.76 343.54,94.61 344.78,94.52C346.02,94.42 347.01,94.66 348.36,95.41C349.7,96.16 351.34,97.15 352.83,98.99C354.32,100.83 355.81,103.96 357.3,106.45C358.79,108.93 360.28,111.82 361.77,113.91C363.26,116 364.58,118 366.24,118.98C367.9,119.95 370.14,119.35 371.73,119.77C373.32,120.19 374.33,120.86 375.78,121.5C377.22,122.13 378.86,122.96 380.4,123.58C381.94,124.19 383.48,124.67 385.02,125.19C386.56,125.71 388.1,126.31 389.64,126.7C391.18,127.08 392.52,127.22 394.26,127.5C395.99,127.79 398.11,128.18 400.03,128.43C401.96,128.68 403.88,128.72 405.81,129.01C407.73,129.3 409.47,129.83 411.58,130.16C413.7,130.49 416.2,130.74 418.51,130.97C420.83,131.2 422.56,131.39 425.45,131.55C428.33,131.7 434.11,131.84 435.84,131.89" stroke="#0000ff" stroke-width="1.6" stroke-dasharray="4.2,2.4"/>
<path d="M247,133C247.5,133.04 247.19,133.42 250,133.23C252.81,133.04 260.4,132.31 263.86,131.85C267.33,131.38 268.49,131.15 270.8,130.46C273.11,129.77 275.65,128.61 277.73,127.69C279.81,126.76 281.43,125.84 283.28,124.91C285.12,123.99 287.2,123.06 288.82,122.14C290.44,121.22 291.59,120.34 292.98,119.37C294.37,118.4 295.87,116.96 297.14,116.32C298.41,115.67 299.34,115.44 300.61,115.49C301.88,115.53 303.5,116.36 304.77,116.59C306.04,116.83 306.96,116.99 308.23,116.87C309.5,116.76 311.01,115.95 312.39,115.9C313.78,115.85 315.16,116.2 316.55,116.59C317.94,116.99 319.21,118.14 320.71,118.26C322.21,118.37 324.02,117.61 325.56,117.29C327.11,116.96 328.44,116.88 330,116.32C331.56,115.75 333.12,114.81 334.94,113.91C336.76,113.01 338.92,112.27 340.9,110.92C342.89,109.58 345.63,106.93 346.87,105.85C348.1,104.77 347.48,105.21 348.3,104.44C349.12,103.66 350.71,102.32 351.77,101.2C352.82,100.09 353.69,99.18 354.65,97.74C355.62,96.3 356.58,94.18 357.54,92.54C358.5,90.9 359.56,88.94 360.43,87.92C361.3,86.9 361.97,86.32 362.74,86.42C363.51,86.52 364.18,87.57 365.05,88.5C365.92,89.42 366.88,90.9 367.94,91.96C369,93.02 370.25,94.62 371.4,94.85C372.56,95.08 373.71,93.83 374.87,93.35C376.02,92.87 377.27,92.35 378.33,91.96C379.39,91.58 380.35,91.14 381.22,91.04C382.09,90.94 382.67,90.75 383.53,91.39C384.4,92.02 385.55,93.6 386.42,94.85C387.29,96.1 387.9,97.53 388.73,98.89C389.55,100.26 390.45,101.56 391.37,103.02C392.29,104.47 393.2,106.19 394.26,107.64C395.32,109.08 396.57,110.56 397.72,111.68C398.88,112.8 400.03,113.62 401.19,114.34C402.34,115.05 403.31,115.34 404.65,115.95C406,116.57 407.73,117.3 409.27,118.03C410.81,118.76 412.35,119.63 413.89,120.34C415.43,121.06 416.97,121.63 418.51,122.31C420.06,122.98 421.6,123.75 423.14,124.39C424.68,125.02 426.22,125.7 427.76,126.12C429.3,126.54 431.03,126.77 432.38,126.93C433.72,127.08 435.26,127.02 435.84,127.04" stroke="#ff0000" stroke-width="1.5" stroke-dasharray="1.4,1.5"/>
<path d="M247,133C247.5,132.99 248.11,133.19 250,132.95C251.89,132.72 255.55,132.1 258.32,131.57C261.09,131.04 264.1,130.53 266.64,129.77C269.18,129 271.49,128.15 273.57,126.99C275.65,125.84 277.27,124.45 279.12,122.83C280.96,121.22 282.81,119.25 284.66,117.29C286.51,115.32 288.59,113.24 290.21,111.05C291.83,108.85 292.98,106.31 294.37,104.12C295.75,101.92 297.14,99.49 298.53,97.88C299.91,96.26 301.42,95.15 302.69,94.41C303.96,93.67 305,93.32 306.15,93.44C307.31,93.56 308.35,94.25 309.62,95.1C310.89,95.96 312.51,97.65 313.78,98.57C315.05,99.49 315.97,100.53 317.24,100.65C318.52,100.77 319.9,99.84 321.4,99.26C322.91,98.69 324.82,97.99 326.26,97.18C327.69,96.37 328.93,95.38 330,94.41C331.07,93.44 331.68,92.95 332.71,91.39C333.73,89.82 335.11,87.15 336.17,85.03C337.23,82.92 338.1,80.8 339.06,78.68C340.02,76.56 340.98,73.96 341.95,72.33C342.91,70.69 343.87,69.82 344.83,68.86C345.8,67.9 346.86,67.03 347.72,66.55C348.59,66.07 349.26,65.97 350.03,65.97C350.8,65.97 351.57,66.17 352.34,66.55C353.11,66.94 353.88,68 354.65,68.28C355.42,68.57 356.19,68.51 356.96,68.28C357.73,68.05 358.6,67.28 359.27,66.9C359.95,66.51 360.33,65.8 361.01,65.97C361.68,66.15 362.55,66.88 363.32,67.94C364.09,69 364.76,70.73 365.63,72.33C366.49,73.92 367.65,76.14 368.51,77.52C369.38,78.91 369.96,79.93 370.83,80.64C371.69,81.36 372.75,81.64 373.71,81.8C374.68,81.95 375.54,81.64 376.6,81.57C377.66,81.49 379.01,81.18 380.07,81.34C381.12,81.49 381.99,81.59 382.95,82.49C383.92,83.4 384.98,85.38 385.84,86.77C386.71,88.15 387.46,89.65 388.15,90.81C388.84,91.96 389.17,92.24 390,93.7C390.83,95.15 392.01,97.61 393.1,99.55C394.2,101.49 395.51,103.83 396.57,105.33C397.63,106.83 398.3,107.69 399.46,108.56C400.61,109.43 402.05,109.81 403.5,110.52C404.94,111.24 406.58,112.03 408.12,112.83C409.66,113.64 411.2,114.55 412.74,115.38C414.28,116.2 416.01,117.01 417.36,117.8C418.71,118.59 419.67,119.3 420.83,120.11C421.98,120.92 423.14,121.88 424.29,122.65C425.45,123.42 426.6,124.27 427.76,124.73C428.91,125.19 429.87,125.33 431.22,125.43C432.57,125.52 435.07,125.33 435.84,125.31" stroke="#000" stroke-width="1.6"/>
</g>
<clipPath id="cpe"><rect x="247.37" y="133.23" width="189.67" height="126.03"/></clipPath>
<g clip-path="url(#cpe)" fill="none" stroke-linejoin="round">
<path d="M247,258C247.5,258.04 247.19,258.38 250,258.23C252.81,258.09 260.4,257.54 263.86,257.12C267.33,256.71 268.72,256.29 270.8,255.74C272.88,255.18 274.49,254.65 276.34,253.8C278.19,252.94 280.04,251.83 281.89,250.61C283.74,249.38 285.7,247.83 287.44,246.45C289.17,245.06 290.67,243.79 292.29,242.29C293.91,240.79 295.75,238.94 297.14,237.44C298.53,235.93 299.45,234.2 300.61,233.28C301.76,232.35 302.57,232 304.07,231.89C305.57,231.77 307.77,232.77 309.62,232.58C311.47,232.4 313.08,231.4 315.16,230.78C317.24,230.16 319.62,229.76 322.1,228.84C324.57,227.91 327.61,226.49 330,225.23C332.39,223.98 334.61,222.21 336.43,221.31C338.25,220.4 339.66,219.96 340.9,219.81C342.15,219.66 342.89,219.47 343.88,220.41C344.88,221.36 345.62,223.15 346.87,225.48C348.11,227.82 349.6,231.95 351.34,234.43C353.08,236.92 355.06,238.71 357.3,240.4C359.54,242.09 362.25,243.46 364.75,244.58C367.25,245.69 370.28,246.41 372.31,247.08C374.34,247.74 375.39,248.06 376.93,248.58C378.47,249.1 379.82,249.67 381.55,250.19C383.28,250.71 385.4,251.25 387.33,251.7C389.25,252.14 390.98,252.52 393.1,252.85C395.22,253.18 397.92,253.41 400.03,253.66C402.15,253.91 403.69,254.05 405.81,254.35C407.93,254.66 410.43,255.2 412.74,255.51C415.05,255.82 417.17,256.01 419.67,256.2C422.17,256.39 425.06,256.55 427.76,256.66C430.45,256.78 434.49,256.86 435.84,256.89" stroke="#0000ff" stroke-width="1.6" stroke-dasharray="4.2,2.4"/>
<path d="M247,258C247.5,258.04 247.19,258.47 250,258.23C252.81,257.99 260.4,257.15 263.86,256.57C267.33,255.99 268.72,255.6 270.8,254.77C272.88,253.93 274.49,252.62 276.34,251.58C278.19,250.54 280.04,249.38 281.89,248.53C283.74,247.67 285.82,247.26 287.44,246.45C289.05,245.64 290.21,244.71 291.59,243.67C292.98,242.63 294.6,241.06 295.75,240.21C296.91,239.35 297.49,238.54 298.53,238.54C299.57,238.54 300.84,239.75 301.99,240.21C303.15,240.67 303.96,241.2 305.46,241.32C306.96,241.43 309.16,241.13 311.01,240.9C312.85,240.67 314.7,239.93 316.55,239.93C318.4,239.93 320.48,240.74 322.1,240.9C323.71,241.06 324.94,241.06 326.26,240.9C327.57,240.74 328.55,240.51 330,239.93C331.45,239.35 333.37,238.58 334.94,237.42C336.51,236.25 337.92,234.53 339.41,232.94C340.9,231.35 342.69,229.21 343.88,227.87C345.08,226.53 345.64,225.86 346.57,224.9C347.5,223.94 348.4,222.84 349.46,222.13C350.51,221.42 351.86,221.26 352.92,220.63C353.98,219.99 354.85,219.57 355.81,218.32C356.77,217.07 357.83,214.85 358.7,213.12C359.56,211.39 360.24,209.17 361.01,207.92C361.78,206.67 362.64,206.09 363.32,205.61C363.99,205.13 364.38,204.46 365.05,205.03C365.72,205.61 366.49,207.63 367.36,209.08C368.23,210.52 369.19,212.16 370.25,213.7C371.31,215.24 372.46,216.97 373.71,218.32C374.96,219.66 376.31,220.82 377.76,221.78C379.2,222.74 381.17,223.53 382.38,224.09C383.59,224.65 384,224.51 385.02,225.13C386.03,225.74 387.33,226.73 388.48,227.79C389.64,228.84 390.79,230.19 391.95,231.48C393.1,232.77 394.16,234.14 395.41,235.52C396.66,236.91 398.11,238.64 399.46,239.8C400.8,240.95 402.05,241.69 403.5,242.46C404.94,243.23 406.39,243.75 408.12,244.42C409.85,245.09 411.97,245.86 413.89,246.5C415.82,247.13 417.94,247.61 419.67,248.23C421.4,248.85 422.75,249.62 424.29,250.19C425.83,250.77 427.37,251.39 428.91,251.7C430.45,252 432.38,251.99 433.53,252.04C434.69,252.1 435.46,252.04 435.84,252.04" stroke="#ff0000" stroke-width="1.5" stroke-dasharray="1.4,1.5"/>
<path d="M247,258C247.5,257.99 248.11,258.15 250,257.95C251.89,257.76 255.55,257.45 258.32,256.85C261.09,256.24 264.33,255.27 266.64,254.35C268.95,253.43 270.45,252.62 272.18,251.3C273.92,249.98 275.53,248.18 277.04,246.45C278.54,244.71 279.81,242.4 281.2,240.9C282.58,239.4 283.97,238.71 285.36,237.44C286.74,236.16 288.24,235.01 289.51,233.28C290.79,231.54 291.83,229.35 292.98,227.04C294.14,224.73 295.41,221.26 296.45,219.41C297.49,217.56 298.18,216.8 299.22,215.94C300.26,215.09 301.42,214.51 302.69,214.28C303.96,214.05 305.46,214.44 306.85,214.56C308.23,214.67 309.39,215.37 311.01,214.97C312.62,214.58 314.7,212.73 316.55,212.2C318.4,211.67 320.48,212.32 322.1,211.79C323.71,211.25 324.94,209.82 326.26,209.01C327.57,208.2 329.12,207.5 330,206.93C330.88,206.37 330.72,206.6 331.55,205.61C332.39,204.62 333.86,202.53 335.02,200.99C336.17,199.45 337.33,197.66 338.48,196.37C339.64,195.08 340.89,193.96 341.95,193.25C343.01,192.54 343.87,192.06 344.83,192.1C345.8,192.13 346.66,192.67 347.72,193.48C348.78,194.29 350.03,195.95 351.19,196.95C352.34,197.95 353.59,199.49 354.65,199.49C355.71,199.49 356.67,198.14 357.54,196.95C358.41,195.75 359.27,193.44 359.85,192.33C360.43,191.21 360.24,190.69 361.01,190.25C361.78,189.8 363.61,189.13 364.47,189.67C365.34,190.21 365.34,191.6 366.2,193.48C367.07,195.37 368.42,198.68 369.67,200.99C370.92,203.3 372.37,205.42 373.71,207.34C375.06,209.27 376.31,211.23 377.76,212.54C379.2,213.85 380.93,214.33 382.38,215.2C383.82,216.06 385.15,216.64 386.42,217.74C387.69,218.84 388.6,219.78 390,221.78C391.4,223.78 393.36,227.65 394.83,229.75C396.31,231.85 397.53,233.02 398.88,234.37C400.23,235.72 401.57,236.93 402.92,237.83C404.27,238.74 405.33,239.09 406.96,239.8C408.6,240.51 410.81,241.34 412.74,242.11C414.66,242.88 416.78,243.59 418.51,244.42C420.25,245.25 421.69,246.25 423.14,247.08C424.58,247.9 425.83,248.87 427.18,249.39C428.53,249.91 429.78,250.08 431.22,250.19C432.67,250.31 435.07,250.1 435.84,250.08" stroke="#000" stroke-width="1.6"/>
</g>
<clipPath id="cpf"><rect x="247.37" y="258.47" width="189.67" height="126.03"/></clipPath>
<g clip-path="url(#cpf)" fill="none" stroke-linejoin="round">
<path d="M247,383C247.5,383.04 248.11,383.42 250,383.23C251.89,383.04 256.01,382.42 258.32,381.85C260.63,381.27 262.02,380.51 263.86,379.77C265.71,379.03 267.56,378.22 269.41,377.41C271.26,376.6 273.11,375.79 274.96,374.91C276.81,374.04 278.65,373.06 280.5,372.14C282.35,371.22 284.2,370.52 286.05,369.37C287.9,368.21 289.98,366.64 291.59,365.21C293.21,363.78 294.48,362.11 295.75,360.77C297.02,359.43 297.95,358.28 299.22,357.17C300.49,356.06 301.88,354.81 303.38,354.12C304.88,353.42 306.5,353.35 308.23,353.01C309.97,352.66 311.93,352.43 313.78,352.04C315.63,351.64 317.48,351.23 319.32,350.65C321.17,350.07 323.09,349.33 324.87,348.57C326.65,347.81 328.57,346.5 330,346.07C331.43,345.65 332.13,345.62 333.45,346.01C334.77,346.39 336.43,347.4 337.92,348.39C339.41,349.39 340.9,350.38 342.39,351.97C343.88,353.56 345.38,355.95 346.87,357.94C348.36,359.93 349.6,362.17 351.34,363.91C353.08,365.65 355.06,367.14 357.3,368.38C359.54,369.62 362.64,370.85 364.75,371.37C366.87,371.88 368.36,371.13 370,371.5C371.64,371.87 373.08,372.96 374.62,373.58C376.16,374.19 377.51,374.67 379.24,375.19C380.97,375.71 383.09,376.25 385.02,376.7C386.94,377.14 388.67,377.47 390.79,377.85C392.91,378.24 395.41,378.68 397.72,379.01C400.03,379.33 402.34,379.49 404.65,379.82C406.96,380.14 409.27,380.68 411.58,380.97C413.89,381.26 415.82,381.39 418.51,381.55C421.21,381.7 424.87,381.84 427.76,381.89C430.64,381.95 434.49,381.89 435.84,381.89" stroke="#0000ff" stroke-width="1.6" stroke-dasharray="4.2,2.4"/>
<path d="M247,383C247.5,383.04 248.11,383.47 250,383.23C251.89,382.99 256.01,382.26 258.32,381.57C260.63,380.88 262.02,380 263.86,379.07C265.71,378.15 267.56,377.06 269.41,376.02C271.26,374.98 273.22,373.83 274.96,372.83C276.69,371.84 278.19,370.68 279.81,370.06C281.43,369.44 283.16,369.48 284.66,369.09C286.16,368.7 287.44,368.47 288.82,367.7C290.21,366.94 291.71,365.58 292.98,364.51C294.25,363.45 295.29,361.79 296.45,361.33C297.6,360.86 298.64,361.44 299.91,361.74C301.18,362.04 302.69,363.06 304.07,363.13C305.46,363.2 306.85,362.69 308.23,362.16C309.62,361.63 311.01,360.36 312.39,359.94C313.78,359.52 315.16,359.43 316.55,359.66C317.94,359.89 319.32,360.75 320.71,361.33C322.1,361.9 323.32,363.06 324.87,363.13C326.42,363.2 328.32,362.61 330,361.74C331.68,360.88 333.37,359.32 334.94,357.94C336.51,356.56 338.34,354.9 339.41,353.47C340.48,352.03 340.47,350.63 341.37,349.32C342.27,348.02 343.58,346.82 344.83,345.63C346.09,344.43 347.53,343.12 348.88,342.16C350.23,341.2 351.77,340.53 352.92,339.85C354.08,339.18 354.85,339.08 355.81,338.12C356.77,337.16 357.83,335.33 358.7,334.08C359.56,332.82 360.14,331.32 361.01,330.61C361.87,329.9 363.03,329.42 363.89,329.8C364.76,330.19 365.34,331.63 366.2,332.92C367.07,334.21 368.03,335.81 369.09,337.54C370.15,339.27 371.5,341.68 372.56,343.32C373.62,344.95 374.68,346.3 375.45,347.36C376.22,348.42 376.26,348.82 377.18,349.67C378.1,350.52 379.67,351.5 380.97,352.44C382.28,353.38 383.67,354.46 385.02,355.33C386.36,356.19 387.71,356.77 389.06,357.64C390.41,358.5 391.75,359.47 393.1,360.52C394.45,361.58 395.8,362.83 397.15,363.99C398.49,365.15 399.84,366.44 401.19,367.46C402.54,368.48 403.69,369.38 405.23,370.11C406.77,370.84 408.6,371.33 410.43,371.84C412.26,372.36 414.47,372.81 416.2,373.23C417.94,373.65 419.28,374 420.83,374.39C422.37,374.77 423.91,375.16 425.45,375.54C426.99,375.93 428.33,376.41 430.07,376.7C431.8,376.99 434.88,377.18 435.84,377.27" stroke="#ff0000" stroke-width="1.5" stroke-dasharray="1.4,1.5"/>
<path d="M247,383C247.5,382.99 248.58,383.19 250,382.95C251.42,382.72 253.7,382.17 255.55,381.57C257.39,380.97 259.47,380.23 261.09,379.35C262.71,378.47 263.86,377.62 265.25,376.3C266.64,374.98 268.02,373.06 269.41,371.45C270.8,369.83 272.18,368.14 273.57,366.59C274.96,365.05 276.34,363.54 277.73,362.16C279.12,360.77 280.27,359.73 281.89,358.28C283.51,356.82 285.82,355.27 287.44,353.42C289.05,351.57 290.32,349.26 291.59,347.18C292.87,345.1 293.91,342.79 295.06,340.94C296.22,339.1 297.37,337.25 298.53,336.09C299.68,334.94 300.84,334.52 301.99,334.01C303.15,333.5 303.96,333.67 305.46,333.04C306.96,332.42 309.16,331.19 311.01,330.27C312.85,329.34 314.7,327.87 316.55,327.5C318.4,327.13 320.48,328.28 322.1,328.05C323.71,327.82 325.22,326.62 326.26,326.11C327.3,325.6 327.84,325.4 328.34,325C328.83,324.6 328.51,324.38 329.24,323.68C329.97,322.98 331.55,321.5 332.71,320.79C333.86,320.08 335.11,319.79 336.17,319.41C337.23,319.02 338.1,319.02 339.06,318.48C340.02,317.94 340.98,316.65 341.95,316.17C342.91,315.69 343.78,315.4 344.83,315.59C345.89,315.79 347.15,316.85 348.3,317.33C349.46,317.81 350.71,318.06 351.77,318.48C352.82,318.91 353.69,319.87 354.65,319.87C355.62,319.87 356.67,319.29 357.54,318.48C358.41,317.67 359.18,315.69 359.85,315.02C360.53,314.34 360.81,314.4 361.58,314.44C362.35,314.48 363.61,314.38 364.47,315.25C365.34,316.11 365.82,317.65 366.78,319.64C367.74,321.62 369.09,324.64 370.25,327.15C371.4,329.65 372.65,332.54 373.71,334.65C374.77,336.77 375.54,338.41 376.6,339.85C377.66,341.3 378.72,342.16 380.07,343.32C381.41,344.47 383.03,345.72 384.69,346.78C386.34,347.84 388.6,348.44 390,349.67C391.4,350.9 391.91,352.56 393.1,354.17C394.29,355.79 395.8,357.83 397.15,359.37C398.49,360.91 399.84,362.26 401.19,363.41C402.54,364.57 403.69,365.49 405.23,366.3C406.77,367.11 408.6,367.65 410.43,368.26C412.26,368.88 414.47,369.42 416.2,370C417.94,370.57 419.28,371.13 420.83,371.73C422.37,372.33 423.91,373 425.45,373.58C426.99,374.16 428.33,374.91 430.07,375.19C431.8,375.48 434.88,375.29 435.84,375.31" stroke="#000" stroke-width="1.6"/>
</g>
<clipPath id="cpg"><rect x="437.03" y="8" width="189.67" height="126.03"/></clipPath>
<g clip-path="url(#cpg)" fill="none" stroke-linejoin="round">
<path d="M436,133C436.89,132.8 439.53,132.35 441.37,131.81C443.2,131.26 445.19,130.71 447.03,129.72C448.87,128.72 450.56,127.13 452.4,125.84C454.23,124.55 456.32,122.81 458.06,121.96C459.8,121.12 461.34,121.12 462.83,120.77C464.32,120.42 465.61,120.37 467,119.87C468.39,119.38 469.88,118.53 471.18,117.79C472.47,117.04 473.21,116.34 474.75,115.4C476.29,114.45 478.78,113.21 480.42,112.12C482.06,111.02 483.3,109.93 484.59,108.84C485.88,107.74 486.83,107 488.17,105.55C489.51,104.11 491.2,101.43 492.64,100.18C494.08,98.94 495.57,98.39 496.81,98.1C498.06,97.8 498.95,98.19 500.09,98.39C501.24,98.59 502.43,99.29 503.67,99.29C504.91,99.29 506.25,98.74 507.55,98.39C508.84,98.05 509.88,97.6 511.42,97.2C512.96,96.8 515.25,96.11 516.79,96.01C518.33,95.91 519.37,96.36 520.66,96.6C521.95,96.85 522.75,96.8 524.54,97.5C526.33,98.19 529.7,99.64 531.39,100.78C533.08,101.92 533.58,103.12 534.67,104.36C535.77,105.6 536.86,106.9 537.95,108.24C539.05,109.58 540.14,111.17 541.23,112.42C542.32,113.66 543.42,114.95 544.51,115.7C545.6,116.44 546.25,116.59 547.79,116.89C549.33,117.19 552.01,116.99 553.75,117.49C555.49,117.98 556.89,119.11 558.22,119.87C559.55,120.64 560.47,121.32 561.73,122.08C562.99,122.83 564.33,123.81 565.78,124.39C567.22,124.96 568.66,125.21 570.4,125.54C572.13,125.87 574.25,126.06 576.17,126.35C578.1,126.64 580.02,126.93 581.95,127.27C583.87,127.62 585.8,128.1 587.72,128.43C589.65,128.76 591.38,128.95 593.5,129.24C595.62,129.53 598.12,129.91 600.43,130.16C602.74,130.41 605.05,130.55 607.36,130.74C609.67,130.93 611.21,131.12 614.29,131.32C617.37,131.51 623.92,131.8 625.84,131.89" stroke="#0000ff" stroke-width="1.6" stroke-dasharray="4.2,2.4"/>
<path d="M436,133C437.09,132.75 440.57,132.15 442.56,131.51C444.55,130.86 446.14,130.17 447.92,129.12C449.71,128.08 451.45,126.54 453.29,125.24C455.13,123.95 456.87,122.76 458.95,121.37C461.04,119.97 463.82,118.08 465.81,116.89C467.8,115.7 469.34,114.95 470.88,114.21C472.42,113.46 473.46,112.96 475.05,112.42C476.64,111.87 478.08,111.62 480.42,110.92C482.75,110.23 486.48,108.59 489.06,108.24C491.65,107.89 493.83,108.98 495.92,108.84C498.01,108.69 499.75,107.84 501.58,107.34C503.42,106.85 505.36,105.9 506.95,105.85C508.54,105.8 509.63,106.65 511.12,107.05C512.61,107.44 514.5,108.34 515.89,108.24C517.28,108.14 518.13,107.49 519.47,106.45C520.81,105.4 522.47,103.94 523.94,101.97C525.41,100.01 527.29,96.66 528.3,94.67C529.32,92.68 529.36,91.69 530.03,90.05C530.71,88.41 531.57,86.1 532.34,84.85C533.11,83.6 533.69,82.68 534.65,82.54C535.62,82.41 536.87,83.47 538.12,84.04C539.37,84.62 540.91,85.87 542.16,86.01C543.41,86.14 544.38,85.56 545.63,84.85C546.88,84.14 548.42,82.44 549.67,81.73C550.92,81.02 552.08,80.25 553.14,80.58C554.19,80.9 555.16,82.41 556.02,83.7C556.89,84.99 557.56,86.68 558.33,88.32C559.1,89.95 559.88,92.12 560.64,93.51C561.4,94.91 561.94,95.27 562.89,96.66C563.84,98.05 565.01,100.38 566.35,101.86C567.7,103.34 569.43,104.56 570.97,105.56C572.51,106.56 574.15,107.17 575.59,107.87C577.04,108.56 578.39,109.02 579.64,109.72C580.89,110.41 581.85,111.06 583.1,112.03C584.35,112.99 585.8,114.39 587.15,115.49C588.49,116.59 589.84,117.71 591.19,118.61C592.54,119.52 593.79,120.29 595.23,120.92C596.67,121.56 598.22,121.98 599.85,122.42C601.49,122.87 603.22,123.25 605.05,123.58C606.88,123.9 608.9,124.12 610.83,124.39C612.75,124.66 614.68,124.94 616.6,125.19C618.53,125.44 620.84,125.7 622.38,125.89C623.92,126.08 625.26,126.27 625.84,126.35" stroke="#ff0000" stroke-width="1.5" stroke-dasharray="1.4,1.5"/>
<path d="M436,133C437.04,132.75 440.27,132.35 442.26,131.51C444.25,130.66 445.89,129.82 447.92,127.93C449.96,126.04 452.25,123.35 454.48,120.17C456.72,116.99 459.3,111.67 461.34,108.84C463.38,106 465.12,104.76 466.71,103.17C468.29,101.58 469.54,100.63 470.88,99.29C472.22,97.95 473.16,96.4 474.75,95.11C476.34,93.82 478.93,92.87 480.42,91.53C481.91,90.19 482.41,88.8 483.7,87.06C484.99,85.32 486.78,82.73 488.17,81.09C489.56,79.45 490.75,78.36 492.04,77.21C493.34,76.07 494.59,74.92 495.92,74.23C497.25,73.54 498.74,73.28 500,73.07C501.26,72.86 502.31,73.17 503.47,72.95C504.62,72.74 505.58,72.11 506.93,71.8C508.28,71.49 510.01,71.24 511.55,71.11C513.09,70.97 514.92,71.07 516.17,70.99C517.42,70.91 518.1,71.22 519.06,70.64C520.02,70.07 520.89,68.62 521.95,67.52C523.01,66.43 524.35,65.16 525.41,64.06C526.47,62.96 527.43,62.29 528.3,60.94C529.17,59.59 529.94,57.19 530.61,55.97C531.28,54.76 531.57,54.24 532.34,53.66C533.11,53.09 534.46,52.03 535.23,52.51C536,52.99 536.29,54.91 536.96,56.55C537.64,58.19 538.5,60.69 539.27,62.33C540.04,63.96 540.72,65.31 541.58,66.37C542.45,67.43 543.51,68.29 544.47,68.68C545.43,69.06 546.59,68.97 547.36,68.68C548.13,68.39 548.51,67.52 549.09,66.95C549.67,66.37 549.96,65.45 550.83,65.21C551.69,64.98 553.33,64.79 554.29,65.56C555.25,66.33 555.64,67.49 556.6,69.83C557.56,72.18 558.91,76.57 560.07,79.65C561.22,82.73 562.47,86.01 563.53,88.32C564.59,90.63 565.28,91.93 566.42,93.51C567.56,95.1 568.96,96.66 570.4,97.82C571.83,98.98 573.57,99.76 575.02,100.48C576.46,101.19 577.81,101.38 579.06,102.09C580.31,102.8 581.27,103.63 582.52,104.75C583.78,105.87 585.22,107.44 586.57,108.79C587.92,110.14 589.26,111.64 590.61,112.83C591.96,114.03 593.21,114.99 594.65,115.95C596.1,116.92 597.73,117.92 599.27,118.61C600.81,119.3 602.16,119.63 603.89,120.11C605.63,120.59 607.74,121.04 609.67,121.5C611.6,121.96 613.52,122.4 615.45,122.88C617.37,123.37 619.49,124.08 621.22,124.39C622.95,124.69 625.07,124.67 625.84,124.73" stroke="#000" stroke-width="1.6"/>
</g>
<clipPath id="cph"><rect x="437.03" y="133.23" width="189.67" height="126.03"/></clipPath>
<g clip-path="url(#cph)" fill="none" stroke-linejoin="round">
<path d="M436,258C436.7,257.9 438.93,257.7 440.17,257.4C441.42,257.11 442.16,256.96 443.45,256.21C444.74,255.46 446.63,254.02 447.92,252.93C449.22,251.83 450.11,250.74 451.2,249.65C452.3,248.55 453.39,247.31 454.48,246.37C455.58,245.42 456.62,244.72 457.76,243.98C458.9,243.23 460.05,242.49 461.34,241.89C462.63,241.29 464.12,240.85 465.51,240.4C466.9,239.95 468.15,239.65 469.69,239.21C471.23,238.76 472.97,238.46 474.75,237.71C476.54,236.97 478.83,235.68 480.42,234.73C482.01,233.79 483,232.94 484.29,232.05C485.59,231.15 487.03,230.35 488.17,229.36C489.31,228.37 490.26,226.97 491.15,226.08C492.04,225.18 492.54,224.49 493.53,223.99C494.53,223.49 495.77,223.34 497.11,223.1C498.45,222.85 499.35,222.7 501.58,222.5C503.82,222.3 507.55,222.05 510.53,221.9C513.51,221.75 516.99,221.6 519.47,221.6C521.95,221.6 523.69,221.36 525.43,221.9C527.17,222.45 528.41,223.54 529.9,224.89C531.39,226.23 532.88,228.12 534.38,229.96C535.87,231.8 537.36,234.08 538.85,235.92C540.34,237.76 541.83,239.85 543.32,241C544.81,242.14 546.2,242.59 547.79,242.79C549.38,242.98 551.37,241.99 552.86,242.19C554.35,242.39 555.25,243.16 556.73,243.98C558.21,244.79 560.23,246.12 561.73,247.08C563.24,248.03 564.33,249.02 565.78,249.73C567.22,250.44 568.66,250.98 570.4,251.35C572.13,251.72 574.25,251.73 576.17,251.93C578.1,252.12 580.02,252.25 581.95,252.5C583.87,252.76 585.8,253.12 587.72,253.43C589.65,253.74 591.38,254.03 593.5,254.35C595.62,254.68 598.12,255.1 600.43,255.39C602.74,255.68 605.05,255.89 607.36,256.09C609.67,256.28 611.21,256.41 614.29,256.55C617.37,256.68 623.92,256.84 625.84,256.89" stroke="#0000ff" stroke-width="1.6" stroke-dasharray="4.2,2.4"/>
<path d="M436,258C436.7,257.75 438.88,257.15 440.17,256.51C441.47,255.86 442.41,255.46 443.75,254.12C445.09,252.78 446.93,250.14 448.22,248.45C449.51,246.76 450.41,245.47 451.5,243.98C452.59,242.49 453.69,240.85 454.78,239.5C455.87,238.16 456.92,237.02 458.06,235.92C459.2,234.83 460.35,233.89 461.64,232.94C462.93,232 464.47,231.05 465.81,230.26C467.15,229.46 468.59,228.47 469.69,228.17C470.78,227.87 471.28,228.32 472.37,228.47C473.46,228.61 474.36,228.86 476.24,229.06C478.13,229.26 481.21,229.51 483.7,229.66C486.18,229.81 488.67,229.86 491.15,229.96C493.63,230.06 496.37,230.4 498.6,230.26C500.84,230.11 502.58,229.46 504.56,229.06C506.55,228.66 508.54,228.12 510.53,227.87C512.51,227.62 514.5,227.97 516.49,227.57C518.48,227.17 520.71,227.07 522.45,225.48C524.19,223.89 525.62,220.76 526.92,218.02C528.22,215.29 529.26,211.74 530.26,209.09C531.26,206.45 532.13,203.86 532.92,202.16C533.71,200.47 534.23,199.27 535,198.93C535.77,198.58 536.64,199.31 537.54,200.08C538.45,200.85 539.27,202.1 540.43,203.55C541.58,204.99 543.39,207.18 544.47,208.75C545.55,210.31 545.85,212.35 546.9,212.95C547.95,213.55 549.48,212.55 550.77,212.36C552.06,212.16 553.5,211.31 554.65,211.76C555.79,212.21 556.74,213.97 557.63,215.04C558.52,216.11 559.22,216.81 560,218.2C560.78,219.59 561.44,221.66 562.31,223.4C563.18,225.13 564.04,227.05 565.2,228.59C566.35,230.13 567.89,231.58 569.24,232.64C570.59,233.7 571.94,234.31 573.28,234.95C574.63,235.58 576.08,235.97 577.33,236.45C578.58,236.93 579.64,237.16 580.79,237.83C581.95,238.51 583.01,239.59 584.26,240.49C585.51,241.4 586.86,242.36 588.3,243.26C589.74,244.17 591.38,245.13 592.92,245.92C594.46,246.71 595.9,247.42 597.54,248C599.18,248.58 600.91,249.06 602.74,249.39C604.57,249.71 606.59,249.77 608.51,249.96C610.44,250.16 612.37,250.35 614.29,250.54C616.22,250.73 618.14,250.87 620.07,251.12C621.99,251.37 624.88,251.89 625.84,252.04" stroke="#ff0000" stroke-width="1.5" stroke-dasharray="1.4,1.5"/>
<path d="M436,258C436.65,257.7 438.68,257.06 439.88,256.21C441.07,255.36 441.81,254.47 443.15,252.93C444.5,251.39 446.38,249.4 447.92,246.96C449.46,244.53 451.1,241.04 452.4,238.31C453.69,235.58 454.58,233.19 455.68,230.55C456.77,227.92 457.86,224.74 458.95,222.5C460.05,220.26 461.14,218.77 462.23,217.13C463.33,215.49 464.27,214.05 465.51,212.65C466.75,211.26 468.39,209.52 469.69,208.78C470.98,208.03 471.92,208.48 473.26,208.18C474.6,207.88 476,207.58 477.73,206.99C479.47,206.39 481.96,205.74 483.7,204.6C485.44,203.46 486.68,201.52 488.17,200.12C489.66,198.73 491.15,197.19 492.64,196.25C494.13,195.3 495.89,194.72 497.11,194.46C498.34,194.19 498.94,194.52 500,194.65C501.06,194.78 502.31,195.52 503.47,195.23C504.62,194.94 505.78,193.59 506.93,192.92C508.09,192.25 509.14,191.53 510.4,191.19C511.65,190.84 513,190.8 514.44,190.84C515.88,190.88 517.81,191.75 519.06,191.42C520.31,191.09 520.89,190.07 521.95,188.88C523.01,187.68 524.35,185.7 525.41,184.26C526.47,182.81 527.34,181.95 528.3,180.21C529.26,178.48 530.32,175.4 531.19,173.86C532.05,172.32 532.86,171.71 533.5,170.97C534.13,170.24 534.42,168.99 535,169.47C535.58,169.95 536.16,171.88 536.96,173.86C537.77,175.84 538.79,178.58 539.85,181.37C540.91,184.16 542.35,188.3 543.32,190.61C544.28,192.92 544.91,194.02 545.63,195.23C546.34,196.44 546.72,197.56 547.59,197.89C548.46,198.22 549.8,197.41 550.83,197.19C551.85,196.98 552.75,196.27 553.71,196.62C554.68,196.96 555.73,198.16 556.6,199.27C557.47,200.39 558.04,201.58 558.91,203.32C559.78,205.05 560.75,206.8 561.8,209.67C562.85,212.54 564.05,217.87 565.2,220.51C566.34,223.14 567.41,224.19 568.66,225.48C569.91,226.77 571.36,227.54 572.71,228.25C574.05,228.96 575.59,229.36 576.75,229.75C577.9,230.13 578.58,229.92 579.64,230.56C580.7,231.19 581.75,232.41 583.1,233.56C584.45,234.72 586.09,236.26 587.72,237.49C589.36,238.72 591.19,239.84 592.92,240.95C594.65,242.07 596.48,243.3 598.12,244.19C599.76,245.07 601.01,245.82 602.74,246.27C604.47,246.71 606.59,246.61 608.51,246.84C610.44,247.08 612.37,247.33 614.29,247.65C616.22,247.98 618.14,248.42 620.07,248.81C621.99,249.19 624.88,249.77 625.84,249.96" stroke="#000" stroke-width="1.6"/>
</g>
<clipPath id="cpi"><rect x="437.03" y="258.47" width="189.67" height="126.03"/></clipPath>
<g clip-path="url(#cpi)" fill="none" stroke-linejoin="round">
<path d="M436,383C436.89,382.9 439.68,383 441.37,382.4C443.06,381.81 444.55,380.76 446.14,379.42C447.73,378.08 449.41,376.04 450.91,374.35C452.4,372.66 453.64,370.77 455.08,369.28C456.52,367.79 458.26,366.39 459.55,365.4C460.84,364.4 461.74,363.91 462.83,363.31C463.92,362.71 464.77,362.27 466.11,361.82C467.45,361.37 469.44,360.97 470.88,360.63C472.32,360.28 473.16,360.13 474.75,359.73C476.34,359.33 478.93,358.84 480.42,358.24C481.91,357.64 482.6,356.9 483.7,356.15C484.79,355.4 485.88,354.51 486.98,353.76C488.07,353.02 489.06,352.32 490.26,351.68C491.45,351.03 492.49,350.23 494.13,349.89C495.77,349.54 498.11,349.89 500.09,349.59C502.08,349.29 504.07,348.69 506.06,348.1C508.04,347.5 510.28,346.5 512.02,346.01C513.76,345.51 515,344.96 516.49,345.11C517.98,345.26 519.47,346.5 520.96,346.9C522.45,347.3 523.94,347.15 525.43,347.5C526.92,347.85 528.41,348 529.9,348.99C531.39,349.98 532.88,351.48 534.38,353.47C535.87,355.45 537.36,358.84 538.85,360.92C540.34,363.01 541.68,364.85 543.32,366C544.96,367.14 546.95,367.49 548.68,367.79C550.42,368.08 552.16,367.44 553.75,367.79C555.34,368.13 556.99,369.16 558.22,369.87C559.46,370.59 560.09,371.27 561.16,372.08C562.22,372.89 563.27,374.02 564.62,374.73C565.97,375.44 567.51,375.93 569.24,376.35C570.97,376.77 573.09,377.02 575.02,377.27C576.94,377.52 578.87,377.62 580.79,377.85C582.72,378.08 584.64,378.41 586.57,378.66C588.49,378.91 590.42,379.06 592.34,379.35C594.27,379.64 596.19,380.07 598.12,380.39C600.04,380.72 601.78,381.11 603.89,381.32C606.01,381.53 608.51,381.57 610.83,381.66C613.14,381.76 615.25,381.84 617.76,381.89C620.26,381.95 624.49,381.99 625.84,382.01" stroke="#0000ff" stroke-width="1.6" stroke-dasharray="4.2,2.4"/>
<path d="M436,383C436.65,382.8 438.58,382.65 439.88,381.81C441.17,380.96 442.66,379.42 443.75,377.93C444.84,376.44 445.64,374.6 446.43,372.86C447.23,371.12 447.78,369.38 448.52,367.49C449.27,365.6 450.16,363.36 450.91,361.52C451.65,359.68 452.15,358.19 452.99,356.45C453.84,354.71 454.93,352.67 455.97,351.08C457.02,349.49 458.16,348.05 459.25,346.9C460.35,345.76 461.49,344.96 462.53,344.22C463.57,343.47 464.47,343.12 465.51,342.43C466.56,341.73 467.95,340.34 468.79,340.04C469.64,339.74 469.93,340.09 470.58,340.64C471.23,341.18 471.77,342.23 472.67,343.32C473.56,344.42 474.65,346.21 475.95,347.2C477.24,348.19 478.63,348.84 480.42,349.29C482.21,349.74 484.64,349.59 486.68,349.89C488.72,350.18 490.65,350.58 492.64,351.08C494.63,351.58 496.62,352.67 498.6,352.87C500.59,353.07 502.83,352.92 504.56,352.27C506.3,351.63 507.55,350.13 509.04,348.99C510.53,347.85 512.02,346.11 513.51,345.41C515,344.71 516.49,344.86 517.98,344.81C519.47,344.76 521.21,345.66 522.45,345.11C523.69,344.57 524.45,343.27 525.43,341.53C526.41,339.79 527.35,336.87 528.32,334.67C529.28,332.47 530.24,330.24 531.2,328.32C532.17,326.39 533.13,324.08 534.09,323.12C535.06,322.16 536.02,322.16 536.98,322.54C537.94,322.93 538.91,323.99 539.87,325.43C540.83,326.87 541.89,329.57 542.76,331.2C543.62,332.84 544.08,333.28 545.07,335.25C546.05,337.22 547.49,341.38 548.68,343.02C549.88,344.67 550.92,344.86 552.26,345.11C553.6,345.36 555.44,344.06 556.73,344.52C558.02,344.97 558.97,346.4 560,347.82C561.03,349.24 561.83,351.23 562.89,353.02C563.95,354.81 565.01,357.02 566.35,358.56C567.7,360.1 569.43,361.35 570.97,362.26C572.51,363.16 574.05,363.51 575.59,363.99C577.13,364.47 578.67,364.51 580.21,365.15C581.75,365.78 583.29,366.97 584.83,367.8C586.38,368.63 587.92,369.4 589.46,370.11C591,370.82 592.54,371.46 594.08,372.08C595.62,372.69 597.16,373.29 598.7,373.81C600.24,374.33 601.68,374.91 603.32,375.19C604.95,375.48 606.69,375.48 608.51,375.54C610.34,375.6 612.37,375.44 614.29,375.54C616.22,375.64 618.14,375.83 620.07,376.12C621.99,376.41 624.88,377.08 625.84,377.27" stroke="#ff0000" stroke-width="1.5" stroke-dasharray="1.4,1.5"/>
<path d="M436,383C436.6,382.7 438.38,382.45 439.58,381.21C440.77,379.97 442.16,377.43 443.15,375.54C444.15,373.65 444.74,371.91 445.54,369.87C446.33,367.83 447.13,365.75 447.92,363.31C448.72,360.87 449.56,357.84 450.31,355.26C451.05,352.67 451.65,350.18 452.4,347.8C453.14,345.41 454.04,342.97 454.78,340.94C455.53,338.9 456.02,337.55 456.87,335.57C457.71,333.58 458.81,331.04 459.85,329C460.89,326.96 462.08,324.97 463.13,323.33C464.17,321.69 465.16,320.2 466.11,319.16C467.05,318.11 467.85,317.17 468.79,317.07C469.74,316.97 470.78,317.72 471.77,318.56C472.77,319.41 473.76,321.2 474.75,322.14C475.75,323.09 476.74,323.73 477.73,324.23C478.73,324.73 479.51,325.41 480.72,325.12C481.93,324.84 483.8,323.45 485,322.54C486.2,321.63 486.93,320.42 487.89,319.65C488.85,318.88 489.72,318.07 490.78,317.92C491.83,317.77 493.09,318.44 494.24,318.73C495.4,319.02 496.36,319.6 497.71,319.65C499.05,319.71 500.98,319.46 502.33,319.08C503.67,318.69 504.64,318.31 505.79,317.34C506.95,316.38 508.1,314.84 509.26,313.3C510.41,311.76 511.66,309.35 512.72,308.1C513.78,306.85 514.65,305.7 515.61,305.79C516.57,305.89 517.44,308.1 518.5,308.68C519.56,309.26 520.9,309.64 521.96,309.26C523.02,308.87 523.79,307.91 524.85,306.37C525.91,304.83 527.16,302.19 528.32,300.02C529.47,297.84 530.72,294.51 531.78,293.32C532.84,292.12 533.71,292.12 534.67,292.85C535.63,293.59 536.5,295.45 537.56,297.71C538.62,299.96 539.87,303.1 541.02,306.37C542.18,309.64 543.33,313.97 544.49,317.34C545.64,320.71 546.89,324.56 547.95,326.58C549.01,328.61 549.67,329.09 550.84,329.47C552.02,329.86 554.02,328.97 555,328.89C555.98,328.82 555.95,328.14 556.73,329C557.52,329.87 558.88,332.57 559.71,334.07C560.55,335.57 560.91,336.19 561.73,338C562.55,339.81 563.56,342.72 564.62,344.93C565.68,347.14 566.83,349.55 568.09,351.28C569.34,353.02 570.78,354.36 572.13,355.33C573.48,356.29 574.82,356.58 576.17,357.06C577.52,357.54 578.96,357.58 580.21,358.21C581.47,358.85 582.43,359.91 583.68,360.87C584.93,361.83 586.28,363.09 587.72,363.99C589.17,364.89 590.8,365.53 592.34,366.3C593.88,367.07 595.42,367.78 596.96,368.61C598.5,369.44 600.04,370.63 601.58,371.27C603.12,371.9 604.66,372.19 606.2,372.42C607.74,372.65 609.09,372.56 610.83,372.65C612.56,372.75 614.87,372.75 616.6,373C618.33,373.25 619.68,373.77 621.22,374.16C622.76,374.54 625.07,375.12 625.84,375.31" stroke="#000" stroke-width="1.6"/>
</g>
<text x="52.3" y="136.83" font-family="Liberation Sans, sans-serif" font-size="11.5" stroke="#000" stroke-width="0.2" text-anchor="end">0.0</text>
<text x="52.3" y="111.79" font-family="Liberation Sans, sans-serif" font-size="11.5" stroke="#000" stroke-width="0.2" text-anchor="end">0.2</text>
<text x="52.3" y="86.74" font-family="Liberation Sans, sans-serif" font-size="11.5" stroke="#000" stroke-width="0.2" text-anchor="end">0.4</text>
<text x="52.3" y="61.69" font-family="Liberation Sans, sans-serif" font-size="11.5" stroke="#000" stroke-width="0.2" text-anchor="end">0.6</text>
<text x="52.3" y="36.65" font-family="Liberation Sans, sans-serif" font-size="11.5" stroke="#000" stroke-width="0.2" text-anchor="end">0.8</text>
<text x="52.3" y="11.6" font-family="Liberation Sans, sans-serif" font-size="11.5" stroke="#000" stroke-width="0.2" text-anchor="end">1.0</text>
<text x="52.3" y="262.07" font-family="Liberation Sans, sans-serif" font-size="11.5" stroke="#000" stroke-width="0.2" text-anchor="end">0.0</text>
<text x="52.3" y="237.02" font-family="Liberation Sans, sans-serif" font-size="11.5" stroke="#000" stroke-width="0.2" text-anchor="end">0.2</text>
<text x="52.3" y="211.97" font-family="Liberation Sans, sans-serif" font-size="11.5" stroke="#000" stroke-width="0.2" text-anchor="end">0.4</text>
<text x="52.3" y="186.93" font-family="Liberation Sans, sans-serif" font-size="11.5" stroke="#000" stroke-width="0.2" text-anchor="end">0.6</text>
<text x="52.3" y="161.88" font-family="Liberation Sans, sans-serif" font-size="11.5" stroke="#000" stroke-width="0.2" text-anchor="end">0.8</text>
<text x="52.3" y="387.3" font-family="Liberation Sans, sans-serif" font-size="11.5" stroke="#000" stroke-width="0.2" text-anchor="end">0.0</text>
<text x="52.3" y="362.25" font-family="Liberation Sans, sans-serif" font-size="11.5" stroke="#000" stroke-width="0.2" text-anchor="end">0.2</text>
<text x="52.3" y="337.21" font-family="Liberation Sans, sans-serif" font-size="11.5" stroke="#000" stroke-width="0.2" text-anchor="end">0.4</text>
<text x="52.3" y="312.16" font-family="Liberation Sans, sans-serif" font-size="11.5" stroke="#000" stroke-width="0.2" text-anchor="end">0.6</text>
<text x="52.3" y="287.11" font-family="Liberation Sans, sans-serif" font-size="11.5" stroke="#000" stroke-width="0.2" text-anchor="end">0.8</text>
<text x="58" y="397.8" font-family="Liberation Sans, sans-serif" font-size="11.5" stroke="#000" stroke-width="0.2" text-anchor="middle">0</text>
<text x="89.61" y="397.8" font-family="Liberation Sans, sans-serif" font-size="11.5" stroke="#000" stroke-width="0.2" text-anchor="middle">5</text>
<text x="121.22" y="397.8" font-family="Liberation Sans, sans-serif" font-size="11.5" stroke="#000" stroke-width="0.2" text-anchor="middle">10</text>
<text x="152.83" y="397.8" font-family="Liberation Sans, sans-serif" font-size="11.5" stroke="#000" stroke-width="0.2" text-anchor="middle">15</text>
<text x="184.44" y="397.8" font-family="Liberation Sans, sans-serif" font-size="11.5" stroke="#000" stroke-width="0.2" text-anchor="middle">20</text>
<text x="216.06" y="397.8" font-family="Liberation Sans, sans-serif" font-size="11.5" stroke="#000" stroke-width="0.2" text-anchor="middle">25</text>
<text x="247.67" y="397.8" font-family="Liberation Sans, sans-serif" font-size="11.5" stroke="#000" stroke-width="0.2" text-anchor="middle">0</text>
<text x="279.28" y="397.8" font-family="Liberation Sans, sans-serif" font-size="11.5" stroke="#000" stroke-width="0.2" text-anchor="middle">5</text>
<text x="310.89" y="397.8" font-family="Liberation Sans, sans-serif" font-size="11.5" stroke="#000" stroke-width="0.2" text-anchor="middle">10</text>
<text x="342.5" y="397.8" font-family="Liberation Sans, sans-serif" font-size="11.5" stroke="#000" stroke-width="0.2" text-anchor="middle">15</text>
<text x="374.11" y="397.8" font-family="Liberation Sans, sans-serif" font-size="11.5" stroke="#000" stroke-width="0.2" text-anchor="middle">20</text>
<text x="405.72" y="397.8" font-family="Liberation Sans, sans-serif" font-size="11.5" stroke="#000" stroke-width="0.2" text-anchor="middle">25</text>
<text x="437.33" y="397.8" font-family="Liberation Sans, sans-serif" font-size="11.5" stroke="#000" stroke-width="0.2" text-anchor="middle">0</text>
<text x="468.94" y="397.8" font-family="Liberation Sans, sans-serif" font-size="11.5" stroke="#000" stroke-width="0.2" text-anchor="middle">5</text>
<text x="500.56" y="397.8" font-family="Liberation Sans, sans-serif" font-size="11.5" stroke="#000" stroke-width="0.2" text-anchor="middle">10</text>
<text x="532.17" y="397.8" font-family="Liberation Sans, sans-serif" font-size="11.5" stroke="#000" stroke-width="0.2" text-anchor="middle">15</text>
<text x="563.78" y="397.8" font-family="Liberation Sans, sans-serif" font-size="11.5" stroke="#000" stroke-width="0.2" text-anchor="middle">20</text>
<text x="595.39" y="397.8" font-family="Liberation Sans, sans-serif" font-size="11.5" stroke="#000" stroke-width="0.2" text-anchor="middle">25</text>
<text x="627" y="397.8" font-family="Liberation Sans, sans-serif" font-size="11.5" stroke="#000" stroke-width="0.2" text-anchor="middle">30</text>
<text x="342.3" y="427.1" font-family="Liberation Sans, sans-serif" font-size="22" letter-spacing="0.52" text-anchor="middle">Energy [MeV]</text>
<g transform="translate(25,195.7) rotate(-90)"><text x="0" y="0" font-family="Liberation Sans, sans-serif" font-size="23" text-anchor="middle">S<tspan font-size="14.5" dy="6">E1</tspan><tspan dy="-6"> [e</tspan><tspan font-size="14.5" dy="-10.2">2</tspan><tspan dy="10.2">fm</tspan><tspan font-size="14.5" dy="-10.2">2</tspan><tspan dy="10.2">MeV</tspan><tspan font-size="14.5" dy="-10.2">-1</tspan><tspan dy="10.2">]</tspan></text></g>
<text x="76.9" y="30.8" font-family="Liberation Sans, sans-serif" font-size="13.6" stroke="#000" stroke-width="0.08" text-anchor="middle">(a)</text>
<rect x="193.6" y="23.7" width="40.9" height="25.1" fill="#000"/>
<rect x="190.4" y="20.5" width="41.2" height="25.8" fill="#fff" stroke="#666" stroke-width="0.7"/>
<text x="193" y="40.6" font-family="Liberation Sans, sans-serif" font-size="17"><tspan font-size="10.8" dy="-7.5">28</tspan><tspan dy="7.5" dx="0.6">Mg</tspan></text>
<text x="76.9" y="156.03" font-family="Liberation Sans, sans-serif" font-size="13.6" stroke="#000" stroke-width="0.08" text-anchor="middle">(b)</text>
<rect x="193.6" y="149.03" width="40.9" height="25.1" fill="#000"/>
<rect x="190.4" y="145.83" width="41.2" height="25.8" fill="#fff" stroke="#666" stroke-width="0.7"/>
<text x="193" y="165.93" font-family="Liberation Sans, sans-serif" font-size="17"><tspan font-size="10.8" dy="-7.5">30</tspan><tspan dy="7.5" dx="0.6">Mg</tspan></text>
<text x="76.9" y="281.27" font-family="Liberation Sans, sans-serif" font-size="13.6" stroke="#000" stroke-width="0.08" text-anchor="middle">(c)</text>
<rect x="193.6" y="274.77" width="40.9" height="25.1" fill="#000"/>
<rect x="190.4" y="271.57" width="41.2" height="25.8" fill="#fff" stroke="#666" stroke-width="0.7"/>
<text x="193" y="291.67" font-family="Liberation Sans, sans-serif" font-size="17"><tspan font-size="10.8" dy="-7.5">32</tspan><tspan dy="7.5" dx="0.6">Mg</tspan></text>
<text x="266.67" y="30.8" font-family="Liberation Sans, sans-serif" font-size="13.6" stroke="#000" stroke-width="0.08" text-anchor="middle">(d)</text>
<rect x="383.27" y="23.7" width="40.9" height="25.1" fill="#000"/>
<rect x="380.07" y="20.5" width="41.2" height="25.8" fill="#fff" stroke="#666" stroke-width="0.7"/>
<text x="382.67" y="40.6" font-family="Liberation Sans, sans-serif" font-size="17"><tspan font-size="10.8" dy="-7.5">34</tspan><tspan dy="7.5" dx="0.6">Mg</tspan></text>
<text x="266.67" y="156.03" font-family="Liberation Sans, sans-serif" font-size="13.6" stroke="#000" stroke-width="0.08" text-anchor="middle">(e)</text>
<rect x="383.27" y="149.03" width="40.9" height="25.1" fill="#000"/>
<rect x="380.07" y="145.83" width="41.2" height="25.8" fill="#fff" stroke="#666" stroke-width="0.7"/>
<text x="382.67" y="165.93" font-family="Liberation Sans, sans-serif" font-size="17"><tspan font-size="10.8" dy="-7.5">36</tspan><tspan dy="7.5" dx="0.6">Mg</tspan></text>
<text x="266.67" y="281.27" font-family="Liberation Sans, sans-serif" font-size="13.6" stroke="#000" stroke-width="0.08" text-anchor="middle">(f)</text>
<rect x="383.27" y="274.77" width="40.9" height="25.1" fill="#000"/>
<rect x="380.07" y="271.57" width="41.2" height="25.8" fill="#fff" stroke="#666" stroke-width="0.7"/>
<text x="382.67" y="291.67" font-family="Liberation Sans, sans-serif" font-size="17"><tspan font-size="10.8" dy="-7.5">38</tspan><tspan dy="7.5" dx="0.6">Mg</tspan></text>
<text x="456.43" y="30.8" font-family="Liberation Sans, sans-serif" font-size="13.6" stroke="#000" stroke-width="0.08" text-anchor="middle">(g)</text>
<rect x="572.93" y="23.7" width="40.9" height="25.1" fill="#000"/>
<rect x="569.73" y="20.5" width="41.2" height="25.8" fill="#fff" stroke="#666" stroke-width="0.7"/>
<text x="572.33" y="40.6" font-family="Liberation Sans, sans-serif" font-size="17"><tspan font-size="10.8" dy="-7.5">40</tspan><tspan dy="7.5" dx="0.6">Mg</tspan></text>
<text x="456.43" y="156.03" font-family="Liberation Sans, sans-serif" font-size="13.6" stroke="#000" stroke-width="0.08" text-anchor="middle">(h)</text>
<rect x="572.93" y="149.03" width="40.9" height="25.1" fill="#000"/>
<rect x="569.73" y="145.83" width="41.2" height="25.8" fill="#fff" stroke="#666" stroke-width="0.7"/>
<text x="572.33" y="165.93" font-family="Liberation Sans, sans-serif" font-size="17"><tspan font-size="10.8" dy="-7.5">42</tspan><tspan dy="7.5" dx="0.6">Mg</tspan></text>
<text x="456.43" y="281.27" font-family="Liberation Sans, sans-serif" font-size="13.6" stroke="#000" stroke-width="0.08" text-anchor="middle">(i)</text>
<rect x="572.93" y="274.77" width="40.9" height="25.1" fill="#000"/>
<rect x="569.73" y="271.57" width="41.2" height="25.8" fill="#fff" stroke="#666" stroke-width="0.7"/>
<text x="572.33" y="291.67" font-family="Liberation Sans, sans-serif" font-size="17"><tspan font-size="10.8" dy="-7.5">44</tspan><tspan dy="7.5" dx="0.6">Mg</tspan></text>
<path d="M69.7,42.7 H100.7" stroke="#000" stroke-width="1.5"/>
<path d="M69.7,61.4 H100.7" stroke="#0000ff" stroke-width="1.5" stroke-dasharray="4.4,2.2"/>
<path d="M69.7,79.8 H100.7" stroke="#ff0000" stroke-width="1.5" stroke-dasharray="1.4,1.5"/>
<text x="104.5" y="47.2" font-family="Liberation Sans, sans-serif" font-size="13.5" stroke="#000" stroke-width="0.2">Total</text>
<text x="104.2" y="65.9" font-family="Liberation Sans, sans-serif" font-size="13.2" stroke="#000" stroke-width="0.2"><tspan font-style="italic">K</tspan><tspan font-size="9.5" dy="-5" font-style="italic">&#960;</tspan><tspan dy="5">=0</tspan><tspan font-size="10" dy="-5">-</tspan></text>
<text x="104.2" y="84.4" font-family="Liberation Sans, sans-serif" font-size="13.2" stroke="#000" stroke-width="0.2"><tspan font-style="italic">K</tspan><tspan font-size="9.5" dy="-5" font-style="italic">&#960;</tspan><tspan dy="5">=1</tspan><tspan font-size="10" dy="-5">-</tspan></text>
</svg>
</body></html>
